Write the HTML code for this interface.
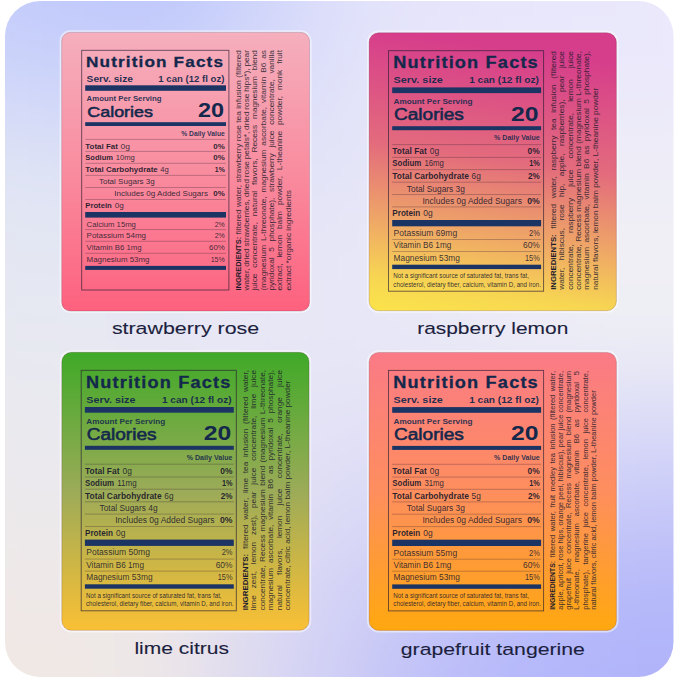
<!DOCTYPE html><html><head><meta charset="utf-8"><style>html,body{margin:0;padding:0;background:#fff;width:679px;height:679px;overflow:hidden}svg{display:block}</style></head><body>
<svg width="679" height="679" viewBox="0 0 679 679" font-family="'Liberation Sans', sans-serif">
<defs><clipPath id="bgc"><rect x="5" y="1" width="668.5" height="676" rx="35"/></clipPath><filter id="bl" x="-50%" y="-50%" width="200%" height="200%"><feGaussianBlur stdDeviation="40"/></filter></defs>
<g clip-path="url(#bgc)"><g filter="url(#bl)">
<rect x="-212.2" y="-212.2" width="85.9" height="85.9" fill="#c4ccfb"/>
<rect x="-127.3" y="-212.2" width="85.9" height="85.9" fill="#c4ccfb"/>
<rect x="-42.4" y="-212.2" width="85.9" height="85.9" fill="#c4ccfb"/>
<rect x="42.4" y="-212.2" width="85.9" height="85.9" fill="#c0c9fb"/>
<rect x="127.3" y="-212.2" width="85.9" height="85.9" fill="#bec8fb"/>
<rect x="212.2" y="-212.2" width="85.9" height="85.9" fill="#cdd3fa"/>
<rect x="297.1" y="-212.2" width="85.9" height="85.9" fill="#dfe0fa"/>
<rect x="381.9" y="-212.2" width="85.9" height="85.9" fill="#e5e4fb"/>
<rect x="466.8" y="-212.2" width="85.9" height="85.9" fill="#e8e6fb"/>
<rect x="551.7" y="-212.2" width="85.9" height="85.9" fill="#e9e7fb"/>
<rect x="636.6" y="-212.2" width="85.9" height="85.9" fill="#ebe8fc"/>
<rect x="721.4" y="-212.2" width="85.9" height="85.9" fill="#ebe8fc"/>
<rect x="806.3" y="-212.2" width="85.9" height="85.9" fill="#ebe8fc"/>
<rect x="-212.2" y="-127.3" width="85.9" height="85.9" fill="#c4ccfb"/>
<rect x="-127.3" y="-127.3" width="85.9" height="85.9" fill="#c4ccfb"/>
<rect x="-42.4" y="-127.3" width="85.9" height="85.9" fill="#c4ccfb"/>
<rect x="42.4" y="-127.3" width="85.9" height="85.9" fill="#c0c9fb"/>
<rect x="127.3" y="-127.3" width="85.9" height="85.9" fill="#bec8fb"/>
<rect x="212.2" y="-127.3" width="85.9" height="85.9" fill="#cdd3fa"/>
<rect x="297.1" y="-127.3" width="85.9" height="85.9" fill="#dfe0fa"/>
<rect x="381.9" y="-127.3" width="85.9" height="85.9" fill="#e5e4fb"/>
<rect x="466.8" y="-127.3" width="85.9" height="85.9" fill="#e8e6fb"/>
<rect x="551.7" y="-127.3" width="85.9" height="85.9" fill="#e9e7fb"/>
<rect x="636.6" y="-127.3" width="85.9" height="85.9" fill="#ebe8fc"/>
<rect x="721.4" y="-127.3" width="85.9" height="85.9" fill="#ebe8fc"/>
<rect x="806.3" y="-127.3" width="85.9" height="85.9" fill="#ebe8fc"/>
<rect x="-212.2" y="-42.4" width="85.9" height="85.9" fill="#c4ccfb"/>
<rect x="-127.3" y="-42.4" width="85.9" height="85.9" fill="#c4ccfb"/>
<rect x="-42.4" y="-42.4" width="85.9" height="85.9" fill="#c4ccfb"/>
<rect x="42.4" y="-42.4" width="85.9" height="85.9" fill="#c0c9fb"/>
<rect x="127.3" y="-42.4" width="85.9" height="85.9" fill="#bec8fb"/>
<rect x="212.2" y="-42.4" width="85.9" height="85.9" fill="#cdd3fa"/>
<rect x="297.1" y="-42.4" width="85.9" height="85.9" fill="#dfe0fa"/>
<rect x="381.9" y="-42.4" width="85.9" height="85.9" fill="#e5e4fb"/>
<rect x="466.8" y="-42.4" width="85.9" height="85.9" fill="#e8e6fb"/>
<rect x="551.7" y="-42.4" width="85.9" height="85.9" fill="#e9e7fb"/>
<rect x="636.6" y="-42.4" width="85.9" height="85.9" fill="#ebe8fc"/>
<rect x="721.4" y="-42.4" width="85.9" height="85.9" fill="#ebe8fc"/>
<rect x="806.3" y="-42.4" width="85.9" height="85.9" fill="#ebe8fc"/>
<rect x="-212.2" y="42.4" width="85.9" height="85.9" fill="#d0d7f9"/>
<rect x="-127.3" y="42.4" width="85.9" height="85.9" fill="#d0d7f9"/>
<rect x="-42.4" y="42.4" width="85.9" height="85.9" fill="#d0d7f9"/>
<rect x="42.4" y="42.4" width="85.9" height="85.9" fill="#ccd3fa"/>
<rect x="127.3" y="42.4" width="85.9" height="85.9" fill="#cdd3fa"/>
<rect x="212.2" y="42.4" width="85.9" height="85.9" fill="#d8dbf9"/>
<rect x="297.1" y="42.4" width="85.9" height="85.9" fill="#e1e2f9"/>
<rect x="381.9" y="42.4" width="85.9" height="85.9" fill="#e7e5fa"/>
<rect x="466.8" y="42.4" width="85.9" height="85.9" fill="#e9e7fa"/>
<rect x="551.7" y="42.4" width="85.9" height="85.9" fill="#eae8fa"/>
<rect x="636.6" y="42.4" width="85.9" height="85.9" fill="#ebe9fa"/>
<rect x="721.4" y="42.4" width="85.9" height="85.9" fill="#ebe9fa"/>
<rect x="806.3" y="42.4" width="85.9" height="85.9" fill="#ebe9fa"/>
<rect x="-212.2" y="127.3" width="85.9" height="85.9" fill="#e0e4f4"/>
<rect x="-127.3" y="127.3" width="85.9" height="85.9" fill="#e0e4f4"/>
<rect x="-42.4" y="127.3" width="85.9" height="85.9" fill="#e0e4f4"/>
<rect x="42.4" y="127.3" width="85.9" height="85.9" fill="#dee2f5"/>
<rect x="127.3" y="127.3" width="85.9" height="85.9" fill="#dde0f7"/>
<rect x="212.2" y="127.3" width="85.9" height="85.9" fill="#e0e2f8"/>
<rect x="297.1" y="127.3" width="85.9" height="85.9" fill="#e4e4f8"/>
<rect x="381.9" y="127.3" width="85.9" height="85.9" fill="#e9e7f9"/>
<rect x="466.8" y="127.3" width="85.9" height="85.9" fill="#ecebf8"/>
<rect x="551.7" y="127.3" width="85.9" height="85.9" fill="#eeedf7"/>
<rect x="636.6" y="127.3" width="85.9" height="85.9" fill="#eeedf7"/>
<rect x="721.4" y="127.3" width="85.9" height="85.9" fill="#eeedf7"/>
<rect x="806.3" y="127.3" width="85.9" height="85.9" fill="#eeedf7"/>
<rect x="-212.2" y="212.2" width="85.9" height="85.9" fill="#e4e7f2"/>
<rect x="-127.3" y="212.2" width="85.9" height="85.9" fill="#e4e7f2"/>
<rect x="-42.4" y="212.2" width="85.9" height="85.9" fill="#e4e7f2"/>
<rect x="42.4" y="212.2" width="85.9" height="85.9" fill="#e3e6f3"/>
<rect x="127.3" y="212.2" width="85.9" height="85.9" fill="#e3e5f5"/>
<rect x="212.2" y="212.2" width="85.9" height="85.9" fill="#e5e5f6"/>
<rect x="297.1" y="212.2" width="85.9" height="85.9" fill="#e7e6f7"/>
<rect x="381.9" y="212.2" width="85.9" height="85.9" fill="#eae9f7"/>
<rect x="466.8" y="212.2" width="85.9" height="85.9" fill="#eeedf6"/>
<rect x="551.7" y="212.2" width="85.9" height="85.9" fill="#f0f0f4"/>
<rect x="636.6" y="212.2" width="85.9" height="85.9" fill="#f0f0f4"/>
<rect x="721.4" y="212.2" width="85.9" height="85.9" fill="#f0f0f4"/>
<rect x="806.3" y="212.2" width="85.9" height="85.9" fill="#f0f0f4"/>
<rect x="-212.2" y="297.1" width="85.9" height="85.9" fill="#e7e9f1"/>
<rect x="-127.3" y="297.1" width="85.9" height="85.9" fill="#e7e9f1"/>
<rect x="-42.4" y="297.1" width="85.9" height="85.9" fill="#e7e9f1"/>
<rect x="42.4" y="297.1" width="85.9" height="85.9" fill="#e7e8f2"/>
<rect x="127.3" y="297.1" width="85.9" height="85.9" fill="#e7e7f4"/>
<rect x="212.2" y="297.1" width="85.9" height="85.9" fill="#e8e7f6"/>
<rect x="297.1" y="297.1" width="85.9" height="85.9" fill="#e8e7f7"/>
<rect x="381.9" y="297.1" width="85.9" height="85.9" fill="#e9e8f7"/>
<rect x="466.8" y="297.1" width="85.9" height="85.9" fill="#eceaf6"/>
<rect x="551.7" y="297.1" width="85.9" height="85.9" fill="#ededf5"/>
<rect x="636.6" y="297.1" width="85.9" height="85.9" fill="#ededf5"/>
<rect x="721.4" y="297.1" width="85.9" height="85.9" fill="#ededf5"/>
<rect x="806.3" y="297.1" width="85.9" height="85.9" fill="#ededf5"/>
<rect x="-212.2" y="381.9" width="85.9" height="85.9" fill="#eae9ee"/>
<rect x="-127.3" y="381.9" width="85.9" height="85.9" fill="#eae9ee"/>
<rect x="-42.4" y="381.9" width="85.9" height="85.9" fill="#eae9ee"/>
<rect x="42.4" y="381.9" width="85.9" height="85.9" fill="#e9e8f0"/>
<rect x="127.3" y="381.9" width="85.9" height="85.9" fill="#e8e6f2"/>
<rect x="212.2" y="381.9" width="85.9" height="85.9" fill="#e5e4f5"/>
<rect x="297.1" y="381.9" width="85.9" height="85.9" fill="#e3e2f6"/>
<rect x="381.9" y="381.9" width="85.9" height="85.9" fill="#e0e0f7"/>
<rect x="466.8" y="381.9" width="85.9" height="85.9" fill="#dfdff7"/>
<rect x="551.7" y="381.9" width="85.9" height="85.9" fill="#dcdcf8"/>
<rect x="636.6" y="381.9" width="85.9" height="85.9" fill="#dadaf8"/>
<rect x="721.4" y="381.9" width="85.9" height="85.9" fill="#dadaf8"/>
<rect x="806.3" y="381.9" width="85.9" height="85.9" fill="#dadaf8"/>
<rect x="-212.2" y="466.8" width="85.9" height="85.9" fill="#ece9eb"/>
<rect x="-127.3" y="466.8" width="85.9" height="85.9" fill="#ece9eb"/>
<rect x="-42.4" y="466.8" width="85.9" height="85.9" fill="#ece9eb"/>
<rect x="42.4" y="466.8" width="85.9" height="85.9" fill="#ebe8ec"/>
<rect x="127.3" y="466.8" width="85.9" height="85.9" fill="#e9e6ef"/>
<rect x="212.2" y="466.8" width="85.9" height="85.9" fill="#e2e0f3"/>
<rect x="297.1" y="466.8" width="85.9" height="85.9" fill="#dddcf5"/>
<rect x="381.9" y="466.8" width="85.9" height="85.9" fill="#d6d6f7"/>
<rect x="466.8" y="466.8" width="85.9" height="85.9" fill="#cfd0f8"/>
<rect x="551.7" y="466.8" width="85.9" height="85.9" fill="#c9caf8"/>
<rect x="636.6" y="466.8" width="85.9" height="85.9" fill="#c6c7f8"/>
<rect x="721.4" y="466.8" width="85.9" height="85.9" fill="#c6c7f8"/>
<rect x="806.3" y="466.8" width="85.9" height="85.9" fill="#c6c7f8"/>
<rect x="-212.2" y="551.7" width="85.9" height="85.9" fill="#efe8e7"/>
<rect x="-127.3" y="551.7" width="85.9" height="85.9" fill="#efe8e7"/>
<rect x="-42.4" y="551.7" width="85.9" height="85.9" fill="#efe8e7"/>
<rect x="42.4" y="551.7" width="85.9" height="85.9" fill="#eee8e8"/>
<rect x="127.3" y="551.7" width="85.9" height="85.9" fill="#ebe6eb"/>
<rect x="212.2" y="551.7" width="85.9" height="85.9" fill="#dedbf2"/>
<rect x="297.1" y="551.7" width="85.9" height="85.9" fill="#d3d2f6"/>
<rect x="381.9" y="551.7" width="85.9" height="85.9" fill="#c6c7f8"/>
<rect x="466.8" y="551.7" width="85.9" height="85.9" fill="#bcbff9"/>
<rect x="551.7" y="551.7" width="85.9" height="85.9" fill="#b6b9f9"/>
<rect x="636.6" y="551.7" width="85.9" height="85.9" fill="#b4b7f9"/>
<rect x="721.4" y="551.7" width="85.9" height="85.9" fill="#b4b7f9"/>
<rect x="806.3" y="551.7" width="85.9" height="85.9" fill="#b4b7f9"/>
<rect x="-212.2" y="636.6" width="85.9" height="85.9" fill="#f0e8e3"/>
<rect x="-127.3" y="636.6" width="85.9" height="85.9" fill="#f0e8e3"/>
<rect x="-42.4" y="636.6" width="85.9" height="85.9" fill="#f0e8e3"/>
<rect x="42.4" y="636.6" width="85.9" height="85.9" fill="#f0e8e4"/>
<rect x="127.3" y="636.6" width="85.9" height="85.9" fill="#ece6e8"/>
<rect x="212.2" y="636.6" width="85.9" height="85.9" fill="#dcd9f1"/>
<rect x="297.1" y="636.6" width="85.9" height="85.9" fill="#cecdf6"/>
<rect x="381.9" y="636.6" width="85.9" height="85.9" fill="#bfc0f8"/>
<rect x="466.8" y="636.6" width="85.9" height="85.9" fill="#b5b8fa"/>
<rect x="551.7" y="636.6" width="85.9" height="85.9" fill="#b2b5fa"/>
<rect x="636.6" y="636.6" width="85.9" height="85.9" fill="#b0b3fa"/>
<rect x="721.4" y="636.6" width="85.9" height="85.9" fill="#b0b3fa"/>
<rect x="806.3" y="636.6" width="85.9" height="85.9" fill="#b0b3fa"/>
<rect x="-212.2" y="721.4" width="85.9" height="85.9" fill="#f0e8e3"/>
<rect x="-127.3" y="721.4" width="85.9" height="85.9" fill="#f0e8e3"/>
<rect x="-42.4" y="721.4" width="85.9" height="85.9" fill="#f0e8e3"/>
<rect x="42.4" y="721.4" width="85.9" height="85.9" fill="#f0e8e4"/>
<rect x="127.3" y="721.4" width="85.9" height="85.9" fill="#ece6e8"/>
<rect x="212.2" y="721.4" width="85.9" height="85.9" fill="#dcd9f1"/>
<rect x="297.1" y="721.4" width="85.9" height="85.9" fill="#cecdf6"/>
<rect x="381.9" y="721.4" width="85.9" height="85.9" fill="#bfc0f8"/>
<rect x="466.8" y="721.4" width="85.9" height="85.9" fill="#b5b8fa"/>
<rect x="551.7" y="721.4" width="85.9" height="85.9" fill="#b2b5fa"/>
<rect x="636.6" y="721.4" width="85.9" height="85.9" fill="#b0b3fa"/>
<rect x="721.4" y="721.4" width="85.9" height="85.9" fill="#b0b3fa"/>
<rect x="806.3" y="721.4" width="85.9" height="85.9" fill="#b0b3fa"/>
<rect x="-212.2" y="806.3" width="85.9" height="85.9" fill="#f0e8e3"/>
<rect x="-127.3" y="806.3" width="85.9" height="85.9" fill="#f0e8e3"/>
<rect x="-42.4" y="806.3" width="85.9" height="85.9" fill="#f0e8e3"/>
<rect x="42.4" y="806.3" width="85.9" height="85.9" fill="#f0e8e4"/>
<rect x="127.3" y="806.3" width="85.9" height="85.9" fill="#ece6e8"/>
<rect x="212.2" y="806.3" width="85.9" height="85.9" fill="#dcd9f1"/>
<rect x="297.1" y="806.3" width="85.9" height="85.9" fill="#cecdf6"/>
<rect x="381.9" y="806.3" width="85.9" height="85.9" fill="#bfc0f8"/>
<rect x="466.8" y="806.3" width="85.9" height="85.9" fill="#b5b8fa"/>
<rect x="551.7" y="806.3" width="85.9" height="85.9" fill="#b2b5fa"/>
<rect x="636.6" y="806.3" width="85.9" height="85.9" fill="#b0b3fa"/>
<rect x="721.4" y="806.3" width="85.9" height="85.9" fill="#b0b3fa"/>
<rect x="806.3" y="806.3" width="85.9" height="85.9" fill="#b0b3fa"/>
</g></g>
<defs><linearGradient id="g1" x1="0.000" y1="0.000" x2="0.000" y2="1.000"><stop offset="0.000" stop-color="#f5afbd"/><stop offset="0.500" stop-color="#f98c9f"/><stop offset="1.000" stop-color="#fd617e"/></linearGradient></defs>
<rect x="59.60" y="30.30" width="252.00" height="282.80" rx="10.60" fill="#ffffff" fill-opacity="0.5"/>
<rect x="61.70" y="32.40" width="247.80" height="278.60" rx="8.50" fill="url(#g1)" stroke="#400020" stroke-opacity="0.18" stroke-width="1"/>
<rect x="81.70" y="50.30" width="147.20" height="239.70" fill="none" stroke="#251a30" stroke-opacity="0.7" stroke-width="0.9"/>
<text x="86.00" y="66.60" font-size="15.30" font-weight="bold" fill="#14284c" stroke="#14284c" stroke-width="0.30" textLength="138.10" lengthAdjust="spacingAndGlyphs" letter-spacing="1.00">Nutrition Facts</text>
<text x="86.60" y="81.50" font-size="9.40" font-weight="bold" fill="#14284c" fill-opacity="0.95" textLength="46.40" lengthAdjust="spacingAndGlyphs">Serv. size</text>
<text x="158.30" y="81.50" font-size="9.40" font-weight="bold" fill="#14284c" fill-opacity="0.95" textLength="66.20" lengthAdjust="spacingAndGlyphs">1 can (12 fl oz)</text>
<rect x="85.20" y="85.30" width="140.80" height="5.50" fill="#1b3464"/>
<text x="86.60" y="101.30" font-size="7.00" font-weight="bold" fill="#14284c" fill-opacity="0.90" textLength="74.90" lengthAdjust="spacingAndGlyphs">Amount Per Serving</text>
<text x="87.30" y="117.00" font-size="15.00" fill="#14284c" stroke="#14284c" stroke-width="0.55" textLength="65.60" lengthAdjust="spacingAndGlyphs">Calories</text>
<text x="198.00" y="117.00" font-size="19.50" font-weight="bold" fill="#14284c" textLength="26.10" lengthAdjust="spacingAndGlyphs">20</text>
<rect x="85.20" y="122.20" width="140.80" height="3.80" fill="#1b3464"/>
<text x="181.20" y="135.70" font-size="7.00" font-weight="bold" fill="#14284c" fill-opacity="0.90" textLength="43.60" lengthAdjust="spacingAndGlyphs">% Daily Value</text>
<rect x="85.20" y="138.90" width="140.80" height="1.00" fill="#2a1a30" fill-opacity="0.28"/>
<text x="85.30" y="148.50" font-size="8.00" font-weight="bold" fill="#1c1a2c" fill-opacity="0.95" textLength="32.60" lengthAdjust="spacingAndGlyphs">Total Fat</text>
<text x="120.60" y="148.50" font-size="8.00" fill="#1c1a2c" fill-opacity="0.90" textLength="9.50" lengthAdjust="spacingAndGlyphs">0g</text>
<text x="213.30" y="148.50" font-size="8.00" font-weight="bold" fill="#1c1a2c" fill-opacity="0.95" textLength="11.50" lengthAdjust="spacingAndGlyphs">0%</text>
<text x="85.30" y="160.40" font-size="8.00" font-weight="bold" fill="#1c1a2c" fill-opacity="0.95" textLength="27.70" lengthAdjust="spacingAndGlyphs">Sodium</text>
<text x="115.70" y="160.40" font-size="8.00" fill="#1c1a2c" fill-opacity="0.90" textLength="19.10" lengthAdjust="spacingAndGlyphs">10mg</text>
<text x="213.30" y="160.40" font-size="8.00" font-weight="bold" fill="#1c1a2c" fill-opacity="0.95" textLength="11.50" lengthAdjust="spacingAndGlyphs">0%</text>
<text x="85.30" y="172.40" font-size="8.00" font-weight="bold" fill="#1c1a2c" fill-opacity="0.95" textLength="72.50" lengthAdjust="spacingAndGlyphs">Total Carbohydrate</text>
<text x="160.30" y="172.40" font-size="8.00" fill="#1c1a2c" fill-opacity="0.90" textLength="8.50" lengthAdjust="spacingAndGlyphs">4g</text>
<text x="214.80" y="172.40" font-size="8.00" font-weight="bold" fill="#1c1a2c" fill-opacity="0.95" textLength="10.00" lengthAdjust="spacingAndGlyphs">1%</text>
<text x="98.90" y="184.40" font-size="8.00" fill="#1c1a2c" fill-opacity="0.90" textLength="55.90" lengthAdjust="spacingAndGlyphs">Total Sugars 3g</text>
<text x="114.20" y="196.20" font-size="8.00" fill="#1c1a2c" fill-opacity="0.90" textLength="93.80" lengthAdjust="spacingAndGlyphs">Includes 0g Added Sugars</text>
<text x="213.30" y="196.20" font-size="8.00" font-weight="bold" fill="#1c1a2c" fill-opacity="0.95" textLength="11.50" lengthAdjust="spacingAndGlyphs">0%</text>
<text x="85.30" y="207.80" font-size="8.00" font-weight="bold" fill="#1c1a2c" fill-opacity="0.95" textLength="26.50" lengthAdjust="spacingAndGlyphs">Protein</text>
<text x="114.80" y="207.80" font-size="8.00" fill="#1c1a2c" fill-opacity="0.90" textLength="9.00" lengthAdjust="spacingAndGlyphs">0g</text>
<rect x="85.20" y="150.90" width="140.80" height="1.00" fill="#2a1a30" fill-opacity="0.28"/>
<rect x="85.20" y="162.80" width="140.80" height="1.00" fill="#2a1a30" fill-opacity="0.28"/>
<rect x="85.20" y="174.90" width="140.80" height="1.00" fill="#2a1a30" fill-opacity="0.28"/>
<rect x="85.20" y="187.00" width="140.80" height="1.00" fill="#2a1a30" fill-opacity="0.28"/>
<rect x="85.20" y="199.00" width="140.80" height="1.00" fill="#2a1a30" fill-opacity="0.28"/>
<rect x="85.20" y="212.00" width="140.80" height="5.60" fill="#1b3464"/>
<text x="86.60" y="226.90" font-size="8.00" fill="#1c1a2c" fill-opacity="0.88" textLength="49.30" lengthAdjust="spacingAndGlyphs">Calcium 15mg</text>
<text x="214.70" y="226.90" font-size="8.00" fill="#1c1a2c" fill-opacity="0.88" textLength="10.10" lengthAdjust="spacingAndGlyphs">2%</text>
<text x="86.60" y="238.30" font-size="8.00" fill="#1c1a2c" fill-opacity="0.88" textLength="59.40" lengthAdjust="spacingAndGlyphs">Potassium 54mg</text>
<text x="214.70" y="238.30" font-size="8.00" fill="#1c1a2c" fill-opacity="0.88" textLength="10.10" lengthAdjust="spacingAndGlyphs">2%</text>
<text x="86.60" y="250.10" font-size="8.00" fill="#1c1a2c" fill-opacity="0.88" textLength="55.00" lengthAdjust="spacingAndGlyphs">Vitamin B6 1mg</text>
<text x="209.00" y="250.10" font-size="8.00" fill="#1c1a2c" fill-opacity="0.88" textLength="15.80" lengthAdjust="spacingAndGlyphs">60%</text>
<text x="86.60" y="262.00" font-size="8.00" fill="#1c1a2c" fill-opacity="0.88" textLength="62.90" lengthAdjust="spacingAndGlyphs">Magnesium 53mg</text>
<text x="210.70" y="262.00" font-size="8.00" fill="#1c1a2c" fill-opacity="0.88" textLength="14.10" lengthAdjust="spacingAndGlyphs">15%</text>
<rect x="85.20" y="229.10" width="140.80" height="1.00" fill="#2a1a30" fill-opacity="0.28"/>
<rect x="85.20" y="240.80" width="140.80" height="1.00" fill="#2a1a30" fill-opacity="0.28"/>
<rect x="85.20" y="252.80" width="140.80" height="1.00" fill="#2a1a30" fill-opacity="0.28"/>
<rect x="85.20" y="265.90" width="140.80" height="4.00" fill="#1b3464"/>
<g transform="translate(240.80,290.60) rotate(-90)">
<text x="0.00" y="0" font-size="7.50" font-weight="bold" fill="#1c1a2c" fill-opacity="1.00" textLength="53.80" lengthAdjust="spacingAndGlyphs">INGREDIENTS:</text>
<text x="56.23" y="0" font-size="7.50" fill="#1c1a2c" fill-opacity="0.82" textLength="24.91" lengthAdjust="spacingAndGlyphs" stroke="#1c1a2c" stroke-opacity="0.35" stroke-width="0.15">filtered</text>
<text x="83.58" y="0" font-size="7.50" fill="#1c1a2c" fill-opacity="0.82" textLength="22.14" lengthAdjust="spacingAndGlyphs" stroke="#1c1a2c" stroke-opacity="0.35" stroke-width="0.15">water,</text>
<text x="108.16" y="0" font-size="7.50" fill="#1c1a2c" fill-opacity="0.82" textLength="38.74" lengthAdjust="spacingAndGlyphs" stroke="#1c1a2c" stroke-opacity="0.35" stroke-width="0.15">strawberry</text>
<text x="149.33" y="0" font-size="7.50" fill="#1c1a2c" fill-opacity="0.82" textLength="16.15" lengthAdjust="spacingAndGlyphs" stroke="#1c1a2c" stroke-opacity="0.35" stroke-width="0.15">rose</text>
<text x="167.91" y="0" font-size="7.50" fill="#1c1a2c" fill-opacity="0.82" textLength="11.54" lengthAdjust="spacingAndGlyphs" stroke="#1c1a2c" stroke-opacity="0.35" stroke-width="0.15">tea</text>
<text x="181.88" y="0" font-size="7.50" fill="#1c1a2c" fill-opacity="0.82" textLength="28.61" lengthAdjust="spacingAndGlyphs" stroke="#1c1a2c" stroke-opacity="0.35" stroke-width="0.15">infusion</text>
<text x="212.92" y="0" font-size="7.50" fill="#1c1a2c" fill-opacity="0.82" textLength="27.68" lengthAdjust="spacingAndGlyphs" stroke="#1c1a2c" stroke-opacity="0.35" stroke-width="0.15">(filtered</text>
</g>
<g transform="translate(249.10,290.60) rotate(-90)">
<text x="0.00" y="0" font-size="7.50" fill="#1c1a2c" fill-opacity="0.82" textLength="22.14" lengthAdjust="spacingAndGlyphs" stroke="#1c1a2c" stroke-opacity="0.35" stroke-width="0.15">water,</text>
<text x="23.86" y="0" font-size="7.50" fill="#1c1a2c" fill-opacity="0.82" textLength="18.46" lengthAdjust="spacingAndGlyphs" stroke="#1c1a2c" stroke-opacity="0.35" stroke-width="0.15">dried</text>
<text x="44.04" y="0" font-size="7.50" fill="#1c1a2c" fill-opacity="0.82" textLength="47.51" lengthAdjust="spacingAndGlyphs" stroke="#1c1a2c" stroke-opacity="0.35" stroke-width="0.15">strawberries,</text>
<text x="93.26" y="0" font-size="7.50" fill="#1c1a2c" fill-opacity="0.82" textLength="18.46" lengthAdjust="spacingAndGlyphs" stroke="#1c1a2c" stroke-opacity="0.35" stroke-width="0.15">dried</text>
<text x="113.44" y="0" font-size="7.50" fill="#1c1a2c" fill-opacity="0.82" textLength="16.15" lengthAdjust="spacingAndGlyphs" stroke="#1c1a2c" stroke-opacity="0.35" stroke-width="0.15">rose</text>
<text x="131.30" y="0" font-size="7.50" fill="#1c1a2c" fill-opacity="0.82" textLength="27.68" lengthAdjust="spacingAndGlyphs" stroke="#1c1a2c" stroke-opacity="0.35" stroke-width="0.15">petals*,</text>
<text x="160.70" y="0" font-size="7.50" fill="#1c1a2c" fill-opacity="0.82" textLength="18.46" lengthAdjust="spacingAndGlyphs" stroke="#1c1a2c" stroke-opacity="0.35" stroke-width="0.15">dried</text>
<text x="180.88" y="0" font-size="7.50" fill="#1c1a2c" fill-opacity="0.82" textLength="16.15" lengthAdjust="spacingAndGlyphs" stroke="#1c1a2c" stroke-opacity="0.35" stroke-width="0.15">rose</text>
<text x="198.74" y="0" font-size="7.50" fill="#1c1a2c" fill-opacity="0.82" textLength="23.53" lengthAdjust="spacingAndGlyphs" stroke="#1c1a2c" stroke-opacity="0.35" stroke-width="0.15">hips*),</text>
<text x="223.99" y="0" font-size="7.50" fill="#1c1a2c" fill-opacity="0.82" textLength="16.61" lengthAdjust="spacingAndGlyphs" stroke="#1c1a2c" stroke-opacity="0.35" stroke-width="0.15">pear</text>
</g>
<g transform="translate(257.40,290.60) rotate(-90)">
<text x="0.00" y="0" font-size="7.50" fill="#1c1a2c" fill-opacity="0.82" textLength="17.07" lengthAdjust="spacingAndGlyphs" stroke="#1c1a2c" stroke-opacity="0.35" stroke-width="0.15">juice</text>
<text x="22.88" y="0" font-size="7.50" fill="#1c1a2c" fill-opacity="0.82" textLength="45.68" lengthAdjust="spacingAndGlyphs" stroke="#1c1a2c" stroke-opacity="0.35" stroke-width="0.15">concentrate,</text>
<text x="74.36" y="0" font-size="7.50" fill="#1c1a2c" fill-opacity="0.82" textLength="25.38" lengthAdjust="spacingAndGlyphs" stroke="#1c1a2c" stroke-opacity="0.35" stroke-width="0.15">natural</text>
<text x="105.54" y="0" font-size="7.50" fill="#1c1a2c" fill-opacity="0.82" textLength="26.75" lengthAdjust="spacingAndGlyphs" stroke="#1c1a2c" stroke-opacity="0.35" stroke-width="0.15">flavors,</text>
<text x="138.10" y="0" font-size="7.50" fill="#1c1a2c" fill-opacity="0.82" textLength="27.68" lengthAdjust="spacingAndGlyphs" stroke="#1c1a2c" stroke-opacity="0.35" stroke-width="0.15">Recess</text>
<text x="171.58" y="0" font-size="7.50" fill="#1c1a2c" fill-opacity="0.82" textLength="42.90" lengthAdjust="spacingAndGlyphs" stroke="#1c1a2c" stroke-opacity="0.35" stroke-width="0.15">magnesium</text>
<text x="220.29" y="0" font-size="7.50" fill="#1c1a2c" fill-opacity="0.82" textLength="20.31" lengthAdjust="spacingAndGlyphs" stroke="#1c1a2c" stroke-opacity="0.35" stroke-width="0.15">blend</text>
</g>
<g transform="translate(265.70,290.60) rotate(-90)">
<text x="0.00" y="0" font-size="7.50" fill="#1c1a2c" fill-opacity="0.82" textLength="45.67" lengthAdjust="spacingAndGlyphs" stroke="#1c1a2c" stroke-opacity="0.35" stroke-width="0.15">(magnesium</text>
<text x="49.55" y="0" font-size="7.50" fill="#1c1a2c" fill-opacity="0.82" textLength="44.76" lengthAdjust="spacingAndGlyphs" stroke="#1c1a2c" stroke-opacity="0.35" stroke-width="0.15">L-threonate,</text>
<text x="98.20" y="0" font-size="7.50" fill="#1c1a2c" fill-opacity="0.82" textLength="42.90" lengthAdjust="spacingAndGlyphs" stroke="#1c1a2c" stroke-opacity="0.35" stroke-width="0.15">magnesium</text>
<text x="144.98" y="0" font-size="7.50" fill="#1c1a2c" fill-opacity="0.82" textLength="38.76" lengthAdjust="spacingAndGlyphs" stroke="#1c1a2c" stroke-opacity="0.35" stroke-width="0.15">ascorbate,</text>
<text x="187.62" y="0" font-size="7.50" fill="#1c1a2c" fill-opacity="0.82" textLength="26.29" lengthAdjust="spacingAndGlyphs" stroke="#1c1a2c" stroke-opacity="0.35" stroke-width="0.15">vitamin</text>
<text x="217.80" y="0" font-size="7.50" fill="#1c1a2c" fill-opacity="0.82" textLength="10.15" lengthAdjust="spacingAndGlyphs" stroke="#1c1a2c" stroke-opacity="0.35" stroke-width="0.15">B6</text>
<text x="231.83" y="0" font-size="7.50" fill="#1c1a2c" fill-opacity="0.82" textLength="8.77" lengthAdjust="spacingAndGlyphs" stroke="#1c1a2c" stroke-opacity="0.35" stroke-width="0.15">as</text>
</g>
<g transform="translate(274.00,290.60) rotate(-90)">
<text x="0.00" y="0" font-size="7.50" fill="#1c1a2c" fill-opacity="0.82" textLength="33.22" lengthAdjust="spacingAndGlyphs" stroke="#1c1a2c" stroke-opacity="0.35" stroke-width="0.15">pyridoxal</text>
<text x="38.87" y="0" font-size="7.50" fill="#1c1a2c" fill-opacity="0.82" textLength="4.62" lengthAdjust="spacingAndGlyphs" stroke="#1c1a2c" stroke-opacity="0.35" stroke-width="0.15">5</text>
<text x="49.14" y="0" font-size="7.50" fill="#1c1a2c" fill-opacity="0.82" textLength="43.84" lengthAdjust="spacingAndGlyphs" stroke="#1c1a2c" stroke-opacity="0.35" stroke-width="0.15">phosphate),</text>
<text x="98.63" y="0" font-size="7.50" fill="#1c1a2c" fill-opacity="0.82" textLength="38.74" lengthAdjust="spacingAndGlyphs" stroke="#1c1a2c" stroke-opacity="0.35" stroke-width="0.15">strawberry</text>
<text x="143.02" y="0" font-size="7.50" fill="#1c1a2c" fill-opacity="0.82" textLength="17.07" lengthAdjust="spacingAndGlyphs" stroke="#1c1a2c" stroke-opacity="0.35" stroke-width="0.15">juice</text>
<text x="165.74" y="0" font-size="7.50" fill="#1c1a2c" fill-opacity="0.82" textLength="45.68" lengthAdjust="spacingAndGlyphs" stroke="#1c1a2c" stroke-opacity="0.35" stroke-width="0.15">concentrate,</text>
<text x="217.07" y="0" font-size="7.50" fill="#1c1a2c" fill-opacity="0.82" textLength="23.53" lengthAdjust="spacingAndGlyphs" stroke="#1c1a2c" stroke-opacity="0.35" stroke-width="0.15">vanilla</text>
</g>
<g transform="translate(282.30,290.60) rotate(-90)">
<text x="0.00" y="0" font-size="7.50" fill="#1c1a2c" fill-opacity="0.82" textLength="27.21" lengthAdjust="spacingAndGlyphs" stroke="#1c1a2c" stroke-opacity="0.35" stroke-width="0.15">extract,</text>
<text x="33.11" y="0" font-size="7.50" fill="#1c1a2c" fill-opacity="0.82" textLength="22.61" lengthAdjust="spacingAndGlyphs" stroke="#1c1a2c" stroke-opacity="0.35" stroke-width="0.15">lemon</text>
<text x="61.62" y="0" font-size="7.50" fill="#1c1a2c" fill-opacity="0.82" textLength="17.99" lengthAdjust="spacingAndGlyphs" stroke="#1c1a2c" stroke-opacity="0.35" stroke-width="0.15">balm</text>
<text x="85.51" y="0" font-size="7.50" fill="#1c1a2c" fill-opacity="0.82" textLength="29.07" lengthAdjust="spacingAndGlyphs" stroke="#1c1a2c" stroke-opacity="0.35" stroke-width="0.15">powder,</text>
<text x="120.47" y="0" font-size="7.50" fill="#1c1a2c" fill-opacity="0.82" textLength="39.23" lengthAdjust="spacingAndGlyphs" stroke="#1c1a2c" stroke-opacity="0.35" stroke-width="0.15">L-theanine</text>
<text x="165.60" y="0" font-size="7.50" fill="#1c1a2c" fill-opacity="0.82" textLength="29.07" lengthAdjust="spacingAndGlyphs" stroke="#1c1a2c" stroke-opacity="0.35" stroke-width="0.15">powder,</text>
<text x="200.57" y="0" font-size="7.50" fill="#1c1a2c" fill-opacity="0.82" textLength="20.30" lengthAdjust="spacingAndGlyphs" stroke="#1c1a2c" stroke-opacity="0.35" stroke-width="0.15">monk</text>
<text x="226.76" y="0" font-size="7.50" fill="#1c1a2c" fill-opacity="0.82" textLength="13.84" lengthAdjust="spacingAndGlyphs" stroke="#1c1a2c" stroke-opacity="0.35" stroke-width="0.15">fruit</text>
</g>
<g transform="translate(290.60,290.60) rotate(-90)">
<text x="0.00" y="0" font-size="7.50" fill="#1c1a2c" fill-opacity="0.82" textLength="24.91" lengthAdjust="spacingAndGlyphs" stroke="#1c1a2c" stroke-opacity="0.35" stroke-width="0.15">extract</text>
<text x="27.21" y="0" font-size="7.50" fill="#1c1a2c" fill-opacity="0.82" textLength="30.45" lengthAdjust="spacingAndGlyphs" stroke="#1c1a2c" stroke-opacity="0.35" stroke-width="0.15">*organic</text>
<text x="59.97" y="0" font-size="7.50" fill="#1c1a2c" fill-opacity="0.82" textLength="40.61" lengthAdjust="spacingAndGlyphs" stroke="#1c1a2c" stroke-opacity="0.35" stroke-width="0.15">ingredients</text>
</g>
<defs><linearGradient id="g2" x1="0.120" y1="0.000" x2="0.000" y2="1.000"><stop offset="0.000" stop-color="#d63d8b"/><stop offset="0.400" stop-color="#e36b7d"/><stop offset="0.680" stop-color="#efa866"/><stop offset="0.880" stop-color="#f7d652"/><stop offset="1.000" stop-color="#fbe44a"/></linearGradient></defs>
<rect x="367.00" y="30.60" width="251.50" height="282.20" rx="11.60" fill="#ffffff" fill-opacity="0.5"/>
<rect x="369.10" y="32.70" width="247.30" height="278.00" rx="9.50" fill="url(#g2)" stroke="#400020" stroke-opacity="0.18" stroke-width="1"/>
<rect x="388.50" y="50.70" width="155.10" height="240.50" fill="none" stroke="#251a30" stroke-opacity="0.7" stroke-width="0.9"/>
<text x="393.20" y="67.90" font-size="16.00" font-weight="bold" fill="#14284c" stroke="#14284c" stroke-width="0.30" textLength="145.70" lengthAdjust="spacingAndGlyphs" letter-spacing="1.05">Nutrition Facts</text>
<text x="393.60" y="82.90" font-size="9.80" font-weight="bold" fill="#14284c" fill-opacity="0.95" textLength="49.30" lengthAdjust="spacingAndGlyphs">Serv. size</text>
<text x="469.20" y="82.90" font-size="9.80" font-weight="bold" fill="#14284c" fill-opacity="0.95" textLength="69.70" lengthAdjust="spacingAndGlyphs">1 can (12 fl oz)</text>
<rect x="392.20" y="87.40" width="148.90" height="5.70" fill="#1b3464"/>
<text x="393.60" y="103.90" font-size="7.30" font-weight="bold" fill="#14284c" fill-opacity="0.90" textLength="78.90" lengthAdjust="spacingAndGlyphs">Amount Per Serving</text>
<text x="394.00" y="120.40" font-size="15.60" fill="#14284c" stroke="#14284c" stroke-width="0.55" textLength="69.90" lengthAdjust="spacingAndGlyphs">Calories</text>
<text x="511.00" y="120.50" font-size="20.20" font-weight="bold" fill="#14284c" textLength="27.50" lengthAdjust="spacingAndGlyphs">20</text>
<rect x="392.20" y="126.20" width="148.90" height="4.00" fill="#1b3464"/>
<text x="494.00" y="140.30" font-size="7.30" font-weight="bold" fill="#14284c" fill-opacity="0.90" textLength="45.80" lengthAdjust="spacingAndGlyphs">% Daily Value</text>
<rect x="392.20" y="144.10" width="148.90" height="1.00" fill="#2a1a30" fill-opacity="0.28"/>
<text x="392.30" y="153.90" font-size="8.30" font-weight="bold" fill="#1c1a2c" fill-opacity="0.95" textLength="34.50" lengthAdjust="spacingAndGlyphs">Total Fat</text>
<text x="429.80" y="153.90" font-size="8.30" fill="#1c1a2c" fill-opacity="0.90" textLength="9.40" lengthAdjust="spacingAndGlyphs">0g</text>
<text x="527.60" y="153.90" font-size="8.30" font-weight="bold" fill="#1c1a2c" fill-opacity="0.95" textLength="12.20" lengthAdjust="spacingAndGlyphs">0%</text>
<text x="392.30" y="166.40" font-size="8.30" font-weight="bold" fill="#1c1a2c" fill-opacity="0.95" textLength="29.00" lengthAdjust="spacingAndGlyphs">Sodium</text>
<text x="424.50" y="166.40" font-size="8.30" fill="#1c1a2c" fill-opacity="0.90" textLength="19.40" lengthAdjust="spacingAndGlyphs">16mg</text>
<text x="529.20" y="166.40" font-size="8.30" font-weight="bold" fill="#1c1a2c" fill-opacity="0.95" textLength="10.60" lengthAdjust="spacingAndGlyphs">1%</text>
<text x="392.30" y="178.90" font-size="8.30" font-weight="bold" fill="#1c1a2c" fill-opacity="0.95" textLength="76.60" lengthAdjust="spacingAndGlyphs">Total Carbohydrate</text>
<text x="471.60" y="178.90" font-size="8.30" fill="#1c1a2c" fill-opacity="0.90" textLength="9.20" lengthAdjust="spacingAndGlyphs">6g</text>
<text x="528.00" y="178.90" font-size="8.30" font-weight="bold" fill="#1c1a2c" fill-opacity="0.95" textLength="11.80" lengthAdjust="spacingAndGlyphs">2%</text>
<text x="406.80" y="191.50" font-size="8.30" fill="#1c1a2c" fill-opacity="0.90" textLength="58.10" lengthAdjust="spacingAndGlyphs">Total Sugars 3g</text>
<text x="422.50" y="203.60" font-size="8.30" fill="#1c1a2c" fill-opacity="0.90" textLength="99.40" lengthAdjust="spacingAndGlyphs">Includes 0g Added Sugars</text>
<text x="527.20" y="203.60" font-size="8.30" font-weight="bold" fill="#1c1a2c" fill-opacity="0.95" textLength="12.60" lengthAdjust="spacingAndGlyphs">0%</text>
<text x="392.30" y="216.20" font-size="8.30" font-weight="bold" fill="#1c1a2c" fill-opacity="0.95" textLength="28.00" lengthAdjust="spacingAndGlyphs">Protein</text>
<text x="423.30" y="216.20" font-size="8.30" fill="#1c1a2c" fill-opacity="0.90" textLength="9.40" lengthAdjust="spacingAndGlyphs">0g</text>
<rect x="392.20" y="156.90" width="148.90" height="1.00" fill="#2a1a30" fill-opacity="0.28"/>
<rect x="392.20" y="169.10" width="148.90" height="1.00" fill="#2a1a30" fill-opacity="0.28"/>
<rect x="392.20" y="181.70" width="148.90" height="1.00" fill="#2a1a30" fill-opacity="0.28"/>
<rect x="392.20" y="194.00" width="148.90" height="1.00" fill="#2a1a30" fill-opacity="0.28"/>
<rect x="392.20" y="206.40" width="148.90" height="1.00" fill="#2a1a30" fill-opacity="0.28"/>
<rect x="392.20" y="220.00" width="148.90" height="6.30" fill="#1b3464"/>
<text x="393.60" y="235.80" font-size="8.30" fill="#1c1a2c" fill-opacity="0.88" textLength="63.60" lengthAdjust="spacingAndGlyphs">Potassium 69mg</text>
<text x="529.00" y="235.80" font-size="8.30" fill="#1c1a2c" fill-opacity="0.88" textLength="10.80" lengthAdjust="spacingAndGlyphs">2%</text>
<text x="393.60" y="248.10" font-size="8.30" fill="#1c1a2c" fill-opacity="0.88" textLength="57.70" lengthAdjust="spacingAndGlyphs">Vitamin B6 1mg</text>
<text x="523.00" y="248.10" font-size="8.30" fill="#1c1a2c" fill-opacity="0.88" textLength="16.80" lengthAdjust="spacingAndGlyphs">60%</text>
<text x="393.60" y="260.70" font-size="8.30" fill="#1c1a2c" fill-opacity="0.88" textLength="66.30" lengthAdjust="spacingAndGlyphs">Magnesium 53mg</text>
<text x="525.00" y="260.70" font-size="8.30" fill="#1c1a2c" fill-opacity="0.88" textLength="14.80" lengthAdjust="spacingAndGlyphs">15%</text>
<rect x="392.20" y="239.00" width="148.90" height="1.00" fill="#2a1a30" fill-opacity="0.28"/>
<rect x="392.20" y="251.00" width="148.90" height="1.00" fill="#2a1a30" fill-opacity="0.28"/>
<rect x="392.20" y="264.70" width="148.90" height="4.40" fill="#1b3464"/>
<text x="393.30" y="278.40" font-size="6.70" fill="#1c1a2c" fill-opacity="0.90" textLength="135.60" lengthAdjust="spacingAndGlyphs">Not a significant source of saturated fat, trans fat,</text>
<text x="393.30" y="286.60" font-size="6.70" fill="#1c1a2c" fill-opacity="0.90" textLength="147.60" lengthAdjust="spacingAndGlyphs">cholesterol, dietary fiber, calcium, vitamin D, and iron.</text>
<g transform="translate(556.00,289.80) rotate(-90)">
<text x="0.00" y="0" font-size="7.50" font-weight="bold" fill="#1c1a2c" fill-opacity="1.00" textLength="55.50" lengthAdjust="spacingAndGlyphs">INGREDIENTS:</text>
<text x="61.06" y="0" font-size="7.50" fill="#1c1a2c" fill-opacity="0.82" textLength="24.91" lengthAdjust="spacingAndGlyphs" stroke="#1c1a2c" stroke-opacity="0.35" stroke-width="0.15">filtered</text>
<text x="91.53" y="0" font-size="7.50" fill="#1c1a2c" fill-opacity="0.82" textLength="22.14" lengthAdjust="spacingAndGlyphs" stroke="#1c1a2c" stroke-opacity="0.35" stroke-width="0.15">water,</text>
<text x="119.24" y="0" font-size="7.50" fill="#1c1a2c" fill-opacity="0.82" textLength="35.06" lengthAdjust="spacingAndGlyphs" stroke="#1c1a2c" stroke-opacity="0.35" stroke-width="0.15">raspberry</text>
<text x="159.86" y="0" font-size="7.50" fill="#1c1a2c" fill-opacity="0.82" textLength="11.54" lengthAdjust="spacingAndGlyphs" stroke="#1c1a2c" stroke-opacity="0.35" stroke-width="0.15">tea</text>
<text x="176.95" y="0" font-size="7.50" fill="#1c1a2c" fill-opacity="0.82" textLength="28.61" lengthAdjust="spacingAndGlyphs" stroke="#1c1a2c" stroke-opacity="0.35" stroke-width="0.15">infusion</text>
<text x="211.12" y="0" font-size="7.50" fill="#1c1a2c" fill-opacity="0.82" textLength="27.68" lengthAdjust="spacingAndGlyphs" stroke="#1c1a2c" stroke-opacity="0.35" stroke-width="0.15">(filtered</text>
</g>
<g transform="translate(564.30,289.80) rotate(-90)">
<text x="0.00" y="0" font-size="7.50" fill="#1c1a2c" fill-opacity="0.82" textLength="22.14" lengthAdjust="spacingAndGlyphs" stroke="#1c1a2c" stroke-opacity="0.35" stroke-width="0.15">water,</text>
<text x="29.57" y="0" font-size="7.50" fill="#1c1a2c" fill-opacity="0.82" textLength="32.29" lengthAdjust="spacingAndGlyphs" stroke="#1c1a2c" stroke-opacity="0.35" stroke-width="0.15">hibiscus,</text>
<text x="69.28" y="0" font-size="7.50" fill="#1c1a2c" fill-opacity="0.82" textLength="16.15" lengthAdjust="spacingAndGlyphs" stroke="#1c1a2c" stroke-opacity="0.35" stroke-width="0.15">rose</text>
<text x="92.85" y="0" font-size="7.50" fill="#1c1a2c" fill-opacity="0.82" textLength="13.38" lengthAdjust="spacingAndGlyphs" stroke="#1c1a2c" stroke-opacity="0.35" stroke-width="0.15">hip,</text>
<text x="113.65" y="0" font-size="7.50" fill="#1c1a2c" fill-opacity="0.82" textLength="22.61" lengthAdjust="spacingAndGlyphs" stroke="#1c1a2c" stroke-opacity="0.35" stroke-width="0.15">apple,</text>
<text x="143.69" y="0" font-size="7.50" fill="#1c1a2c" fill-opacity="0.82" textLength="46.59" lengthAdjust="spacingAndGlyphs" stroke="#1c1a2c" stroke-opacity="0.35" stroke-width="0.15">raspberries),</text>
<text x="197.70" y="0" font-size="7.50" fill="#1c1a2c" fill-opacity="0.82" textLength="16.61" lengthAdjust="spacingAndGlyphs" stroke="#1c1a2c" stroke-opacity="0.35" stroke-width="0.15">pear</text>
<text x="221.73" y="0" font-size="7.50" fill="#1c1a2c" fill-opacity="0.82" textLength="17.07" lengthAdjust="spacingAndGlyphs" stroke="#1c1a2c" stroke-opacity="0.35" stroke-width="0.15">juice</text>
</g>
<g transform="translate(572.60,289.80) rotate(-90)">
<text x="0.00" y="0" font-size="7.50" fill="#1c1a2c" fill-opacity="0.82" textLength="45.68" lengthAdjust="spacingAndGlyphs" stroke="#1c1a2c" stroke-opacity="0.35" stroke-width="0.15">concentrate,</text>
<text x="56.81" y="0" font-size="7.50" fill="#1c1a2c" fill-opacity="0.82" textLength="35.06" lengthAdjust="spacingAndGlyphs" stroke="#1c1a2c" stroke-opacity="0.35" stroke-width="0.15">raspberry</text>
<text x="102.99" y="0" font-size="7.50" fill="#1c1a2c" fill-opacity="0.82" textLength="17.07" lengthAdjust="spacingAndGlyphs" stroke="#1c1a2c" stroke-opacity="0.35" stroke-width="0.15">juice</text>
<text x="131.19" y="0" font-size="7.50" fill="#1c1a2c" fill-opacity="0.82" textLength="45.68" lengthAdjust="spacingAndGlyphs" stroke="#1c1a2c" stroke-opacity="0.35" stroke-width="0.15">concentrate,</text>
<text x="188.00" y="0" font-size="7.50" fill="#1c1a2c" fill-opacity="0.82" textLength="22.61" lengthAdjust="spacingAndGlyphs" stroke="#1c1a2c" stroke-opacity="0.35" stroke-width="0.15">lemon</text>
<text x="221.73" y="0" font-size="7.50" fill="#1c1a2c" fill-opacity="0.82" textLength="17.07" lengthAdjust="spacingAndGlyphs" stroke="#1c1a2c" stroke-opacity="0.35" stroke-width="0.15">juice</text>
</g>
<g transform="translate(580.90,289.80) rotate(-90)">
<text x="0.00" y="0" font-size="7.50" fill="#1c1a2c" fill-opacity="0.82" textLength="45.68" lengthAdjust="spacingAndGlyphs" stroke="#1c1a2c" stroke-opacity="0.35" stroke-width="0.15">concentrate,</text>
<text x="48.04" y="0" font-size="7.50" fill="#1c1a2c" fill-opacity="0.82" textLength="27.68" lengthAdjust="spacingAndGlyphs" stroke="#1c1a2c" stroke-opacity="0.35" stroke-width="0.15">Recess</text>
<text x="78.08" y="0" font-size="7.50" fill="#1c1a2c" fill-opacity="0.82" textLength="42.90" lengthAdjust="spacingAndGlyphs" stroke="#1c1a2c" stroke-opacity="0.35" stroke-width="0.15">magnesium</text>
<text x="123.34" y="0" font-size="7.50" fill="#1c1a2c" fill-opacity="0.82" textLength="20.31" lengthAdjust="spacingAndGlyphs" stroke="#1c1a2c" stroke-opacity="0.35" stroke-width="0.15">blend</text>
<text x="146.01" y="0" font-size="7.50" fill="#1c1a2c" fill-opacity="0.82" textLength="45.67" lengthAdjust="spacingAndGlyphs" stroke="#1c1a2c" stroke-opacity="0.35" stroke-width="0.15">(magnesium</text>
<text x="194.04" y="0" font-size="7.50" fill="#1c1a2c" fill-opacity="0.82" textLength="44.76" lengthAdjust="spacingAndGlyphs" stroke="#1c1a2c" stroke-opacity="0.35" stroke-width="0.15">L-threonate,</text>
</g>
<g transform="translate(589.20,289.80) rotate(-90)">
<text x="0.00" y="0" font-size="7.50" fill="#1c1a2c" fill-opacity="0.82" textLength="42.90" lengthAdjust="spacingAndGlyphs" stroke="#1c1a2c" stroke-opacity="0.35" stroke-width="0.15">magnesium</text>
<text x="47.23" y="0" font-size="7.50" fill="#1c1a2c" fill-opacity="0.82" textLength="38.76" lengthAdjust="spacingAndGlyphs" stroke="#1c1a2c" stroke-opacity="0.35" stroke-width="0.15">ascorbate,</text>
<text x="90.31" y="0" font-size="7.50" fill="#1c1a2c" fill-opacity="0.82" textLength="26.29" lengthAdjust="spacingAndGlyphs" stroke="#1c1a2c" stroke-opacity="0.35" stroke-width="0.15">vitamin</text>
<text x="120.92" y="0" font-size="7.50" fill="#1c1a2c" fill-opacity="0.82" textLength="10.15" lengthAdjust="spacingAndGlyphs" stroke="#1c1a2c" stroke-opacity="0.35" stroke-width="0.15">B6</text>
<text x="135.39" y="0" font-size="7.50" fill="#1c1a2c" fill-opacity="0.82" textLength="8.77" lengthAdjust="spacingAndGlyphs" stroke="#1c1a2c" stroke-opacity="0.35" stroke-width="0.15">as</text>
<text x="148.48" y="0" font-size="7.50" fill="#1c1a2c" fill-opacity="0.82" textLength="33.22" lengthAdjust="spacingAndGlyphs" stroke="#1c1a2c" stroke-opacity="0.35" stroke-width="0.15">pyridoxal</text>
<text x="186.02" y="0" font-size="7.50" fill="#1c1a2c" fill-opacity="0.82" textLength="4.62" lengthAdjust="spacingAndGlyphs" stroke="#1c1a2c" stroke-opacity="0.35" stroke-width="0.15">5</text>
<text x="194.96" y="0" font-size="7.50" fill="#1c1a2c" fill-opacity="0.82" textLength="43.84" lengthAdjust="spacingAndGlyphs" stroke="#1c1a2c" stroke-opacity="0.35" stroke-width="0.15">phosphate),</text>
</g>
<g transform="translate(597.50,289.80) rotate(-90)">
<text x="0.00" y="0" font-size="7.50" fill="#1c1a2c" fill-opacity="0.82" textLength="25.38" lengthAdjust="spacingAndGlyphs" stroke="#1c1a2c" stroke-opacity="0.35" stroke-width="0.15">natural</text>
<text x="27.69" y="0" font-size="7.50" fill="#1c1a2c" fill-opacity="0.82" textLength="26.75" lengthAdjust="spacingAndGlyphs" stroke="#1c1a2c" stroke-opacity="0.35" stroke-width="0.15">flavors,</text>
<text x="56.74" y="0" font-size="7.50" fill="#1c1a2c" fill-opacity="0.82" textLength="22.61" lengthAdjust="spacingAndGlyphs" stroke="#1c1a2c" stroke-opacity="0.35" stroke-width="0.15">lemon</text>
<text x="81.66" y="0" font-size="7.50" fill="#1c1a2c" fill-opacity="0.82" textLength="17.99" lengthAdjust="spacingAndGlyphs" stroke="#1c1a2c" stroke-opacity="0.35" stroke-width="0.15">balm</text>
<text x="101.95" y="0" font-size="7.50" fill="#1c1a2c" fill-opacity="0.82" textLength="29.07" lengthAdjust="spacingAndGlyphs" stroke="#1c1a2c" stroke-opacity="0.35" stroke-width="0.15">powder,</text>
<text x="133.33" y="0" font-size="7.50" fill="#1c1a2c" fill-opacity="0.82" textLength="39.23" lengthAdjust="spacingAndGlyphs" stroke="#1c1a2c" stroke-opacity="0.35" stroke-width="0.15">L-theanine</text>
<text x="174.86" y="0" font-size="7.50" fill="#1c1a2c" fill-opacity="0.82" textLength="27.22" lengthAdjust="spacingAndGlyphs" stroke="#1c1a2c" stroke-opacity="0.35" stroke-width="0.15">powder</text>
</g>
<defs><linearGradient id="g3" x1="0.000" y1="0.000" x2="0.000" y2="1.000"><stop offset="0.000" stop-color="#3fa928"/><stop offset="0.500" stop-color="#9cab58"/><stop offset="1.000" stop-color="#fac035"/></linearGradient></defs>
<rect x="59.70" y="350.20" width="251.50" height="282.20" rx="11.60" fill="#ffffff" fill-opacity="0.5"/>
<rect x="61.80" y="352.30" width="247.30" height="278.00" rx="9.50" fill="url(#g3)" stroke="#400020" stroke-opacity="0.18" stroke-width="1"/>
<rect x="81.20" y="370.30" width="155.10" height="240.50" fill="none" stroke="#251a30" stroke-opacity="0.7" stroke-width="0.9"/>
<text x="85.90" y="387.50" font-size="16.00" font-weight="bold" fill="#14284c" stroke="#14284c" stroke-width="0.30" textLength="145.70" lengthAdjust="spacingAndGlyphs" letter-spacing="1.05">Nutrition Facts</text>
<text x="86.30" y="402.50" font-size="9.80" font-weight="bold" fill="#14284c" fill-opacity="0.95" textLength="49.30" lengthAdjust="spacingAndGlyphs">Serv. size</text>
<text x="161.90" y="402.50" font-size="9.80" font-weight="bold" fill="#14284c" fill-opacity="0.95" textLength="69.70" lengthAdjust="spacingAndGlyphs">1 can (12 fl oz)</text>
<rect x="84.90" y="407.00" width="148.90" height="5.70" fill="#1b3464"/>
<text x="86.30" y="423.50" font-size="7.30" font-weight="bold" fill="#14284c" fill-opacity="0.90" textLength="78.90" lengthAdjust="spacingAndGlyphs">Amount Per Serving</text>
<text x="86.70" y="440.00" font-size="15.60" fill="#14284c" stroke="#14284c" stroke-width="0.55" textLength="69.90" lengthAdjust="spacingAndGlyphs">Calories</text>
<text x="203.70" y="440.10" font-size="20.20" font-weight="bold" fill="#14284c" textLength="27.50" lengthAdjust="spacingAndGlyphs">20</text>
<rect x="84.90" y="445.80" width="148.90" height="4.00" fill="#1b3464"/>
<text x="186.70" y="459.90" font-size="7.30" font-weight="bold" fill="#14284c" fill-opacity="0.90" textLength="45.80" lengthAdjust="spacingAndGlyphs">% Daily Value</text>
<rect x="84.90" y="463.70" width="148.90" height="1.00" fill="#2a1a30" fill-opacity="0.28"/>
<text x="85.00" y="473.50" font-size="8.30" font-weight="bold" fill="#1c1a2c" fill-opacity="0.95" textLength="34.50" lengthAdjust="spacingAndGlyphs">Total Fat</text>
<text x="122.50" y="473.50" font-size="8.30" fill="#1c1a2c" fill-opacity="0.90" textLength="9.40" lengthAdjust="spacingAndGlyphs">0g</text>
<text x="220.30" y="473.50" font-size="8.30" font-weight="bold" fill="#1c1a2c" fill-opacity="0.95" textLength="12.20" lengthAdjust="spacingAndGlyphs">0%</text>
<text x="85.00" y="486.00" font-size="8.30" font-weight="bold" fill="#1c1a2c" fill-opacity="0.95" textLength="29.00" lengthAdjust="spacingAndGlyphs">Sodium</text>
<text x="117.20" y="486.00" font-size="8.30" fill="#1c1a2c" fill-opacity="0.90" textLength="19.40" lengthAdjust="spacingAndGlyphs">11mg</text>
<text x="221.90" y="486.00" font-size="8.30" font-weight="bold" fill="#1c1a2c" fill-opacity="0.95" textLength="10.60" lengthAdjust="spacingAndGlyphs">1%</text>
<text x="85.00" y="498.50" font-size="8.30" font-weight="bold" fill="#1c1a2c" fill-opacity="0.95" textLength="76.60" lengthAdjust="spacingAndGlyphs">Total Carbohydrate</text>
<text x="164.30" y="498.50" font-size="8.30" fill="#1c1a2c" fill-opacity="0.90" textLength="9.20" lengthAdjust="spacingAndGlyphs">6g</text>
<text x="220.70" y="498.50" font-size="8.30" font-weight="bold" fill="#1c1a2c" fill-opacity="0.95" textLength="11.80" lengthAdjust="spacingAndGlyphs">2%</text>
<text x="99.50" y="511.10" font-size="8.30" fill="#1c1a2c" fill-opacity="0.90" textLength="58.10" lengthAdjust="spacingAndGlyphs">Total Sugars 4g</text>
<text x="115.20" y="523.20" font-size="8.30" fill="#1c1a2c" fill-opacity="0.90" textLength="99.40" lengthAdjust="spacingAndGlyphs">Includes 0g Added Sugars</text>
<text x="219.90" y="523.20" font-size="8.30" font-weight="bold" fill="#1c1a2c" fill-opacity="0.95" textLength="12.60" lengthAdjust="spacingAndGlyphs">0%</text>
<text x="85.00" y="535.80" font-size="8.30" font-weight="bold" fill="#1c1a2c" fill-opacity="0.95" textLength="28.00" lengthAdjust="spacingAndGlyphs">Protein</text>
<text x="116.00" y="535.80" font-size="8.30" fill="#1c1a2c" fill-opacity="0.90" textLength="9.40" lengthAdjust="spacingAndGlyphs">0g</text>
<rect x="84.90" y="476.50" width="148.90" height="1.00" fill="#2a1a30" fill-opacity="0.28"/>
<rect x="84.90" y="488.70" width="148.90" height="1.00" fill="#2a1a30" fill-opacity="0.28"/>
<rect x="84.90" y="501.30" width="148.90" height="1.00" fill="#2a1a30" fill-opacity="0.28"/>
<rect x="84.90" y="513.60" width="148.90" height="1.00" fill="#2a1a30" fill-opacity="0.28"/>
<rect x="84.90" y="526.00" width="148.90" height="1.00" fill="#2a1a30" fill-opacity="0.28"/>
<rect x="84.90" y="539.60" width="148.90" height="6.30" fill="#1b3464"/>
<text x="86.30" y="555.40" font-size="8.30" fill="#1c1a2c" fill-opacity="0.88" textLength="63.60" lengthAdjust="spacingAndGlyphs">Potassium 50mg</text>
<text x="221.70" y="555.40" font-size="8.30" fill="#1c1a2c" fill-opacity="0.88" textLength="10.80" lengthAdjust="spacingAndGlyphs">2%</text>
<text x="86.30" y="567.70" font-size="8.30" fill="#1c1a2c" fill-opacity="0.88" textLength="57.70" lengthAdjust="spacingAndGlyphs">Vitamin B6 1mg</text>
<text x="215.70" y="567.70" font-size="8.30" fill="#1c1a2c" fill-opacity="0.88" textLength="16.80" lengthAdjust="spacingAndGlyphs">60%</text>
<text x="86.30" y="580.30" font-size="8.30" fill="#1c1a2c" fill-opacity="0.88" textLength="66.30" lengthAdjust="spacingAndGlyphs">Magnesium 53mg</text>
<text x="217.70" y="580.30" font-size="8.30" fill="#1c1a2c" fill-opacity="0.88" textLength="14.80" lengthAdjust="spacingAndGlyphs">15%</text>
<rect x="84.90" y="558.60" width="148.90" height="1.00" fill="#2a1a30" fill-opacity="0.28"/>
<rect x="84.90" y="570.60" width="148.90" height="1.00" fill="#2a1a30" fill-opacity="0.28"/>
<rect x="84.90" y="584.30" width="148.90" height="4.40" fill="#1b3464"/>
<text x="86.00" y="598.00" font-size="6.70" fill="#1c1a2c" fill-opacity="0.90" textLength="135.60" lengthAdjust="spacingAndGlyphs">Not a significant source of saturated fat, trans fat,</text>
<text x="86.00" y="606.20" font-size="6.70" fill="#1c1a2c" fill-opacity="0.90" textLength="147.60" lengthAdjust="spacingAndGlyphs">cholesterol, dietary fiber, calcium, vitamin D, and iron.</text>
<g transform="translate(248.00,610.30) rotate(-90)">
<text x="0.00" y="0" font-size="7.50" font-weight="bold" fill="#1c1a2c" fill-opacity="1.00" textLength="56.50" lengthAdjust="spacingAndGlyphs">INGREDIENTS:</text>
<text x="61.27" y="0" font-size="7.50" fill="#1c1a2c" fill-opacity="0.82" textLength="24.61" lengthAdjust="spacingAndGlyphs" stroke="#1c1a2c" stroke-opacity="0.35" stroke-width="0.15">filtered</text>
<text x="90.65" y="0" font-size="7.50" fill="#1c1a2c" fill-opacity="0.82" textLength="21.88" lengthAdjust="spacingAndGlyphs" stroke="#1c1a2c" stroke-opacity="0.35" stroke-width="0.15">water,</text>
<text x="117.30" y="0" font-size="7.50" fill="#1c1a2c" fill-opacity="0.82" textLength="15.04" lengthAdjust="spacingAndGlyphs" stroke="#1c1a2c" stroke-opacity="0.35" stroke-width="0.15">lime</text>
<text x="137.11" y="0" font-size="7.50" fill="#1c1a2c" fill-opacity="0.82" textLength="11.40" lengthAdjust="spacingAndGlyphs" stroke="#1c1a2c" stroke-opacity="0.35" stroke-width="0.15">tea</text>
<text x="153.27" y="0" font-size="7.50" fill="#1c1a2c" fill-opacity="0.82" textLength="28.26" lengthAdjust="spacingAndGlyphs" stroke="#1c1a2c" stroke-opacity="0.35" stroke-width="0.15">infusion</text>
<text x="186.31" y="0" font-size="7.50" fill="#1c1a2c" fill-opacity="0.82" textLength="27.34" lengthAdjust="spacingAndGlyphs" stroke="#1c1a2c" stroke-opacity="0.35" stroke-width="0.15">(filtered</text>
<text x="218.42" y="0" font-size="7.50" fill="#1c1a2c" fill-opacity="0.82" textLength="21.88" lengthAdjust="spacingAndGlyphs" stroke="#1c1a2c" stroke-opacity="0.35" stroke-width="0.15">water,</text>
</g>
<g transform="translate(256.40,610.30) rotate(-90)">
<text x="0.00" y="0" font-size="7.50" fill="#1c1a2c" fill-opacity="0.82" textLength="15.04" lengthAdjust="spacingAndGlyphs" stroke="#1c1a2c" stroke-opacity="0.35" stroke-width="0.15">lime</text>
<text x="21.94" y="0" font-size="7.50" fill="#1c1a2c" fill-opacity="0.82" textLength="17.32" lengthAdjust="spacingAndGlyphs" stroke="#1c1a2c" stroke-opacity="0.35" stroke-width="0.15">zest,</text>
<text x="46.17" y="0" font-size="7.50" fill="#1c1a2c" fill-opacity="0.82" textLength="22.33" lengthAdjust="spacingAndGlyphs" stroke="#1c1a2c" stroke-opacity="0.35" stroke-width="0.15">lemon</text>
<text x="75.41" y="0" font-size="7.50" fill="#1c1a2c" fill-opacity="0.82" textLength="20.05" lengthAdjust="spacingAndGlyphs" stroke="#1c1a2c" stroke-opacity="0.35" stroke-width="0.15">zest),</text>
<text x="102.36" y="0" font-size="7.50" fill="#1c1a2c" fill-opacity="0.82" textLength="16.41" lengthAdjust="spacingAndGlyphs" stroke="#1c1a2c" stroke-opacity="0.35" stroke-width="0.15">pear</text>
<text x="125.68" y="0" font-size="7.50" fill="#1c1a2c" fill-opacity="0.82" textLength="16.87" lengthAdjust="spacingAndGlyphs" stroke="#1c1a2c" stroke-opacity="0.35" stroke-width="0.15">juice</text>
<text x="149.46" y="0" font-size="7.50" fill="#1c1a2c" fill-opacity="0.82" textLength="45.13" lengthAdjust="spacingAndGlyphs" stroke="#1c1a2c" stroke-opacity="0.35" stroke-width="0.15">concentrate,</text>
<text x="201.49" y="0" font-size="7.50" fill="#1c1a2c" fill-opacity="0.82" textLength="15.04" lengthAdjust="spacingAndGlyphs" stroke="#1c1a2c" stroke-opacity="0.35" stroke-width="0.15">lime</text>
<text x="223.43" y="0" font-size="7.50" fill="#1c1a2c" fill-opacity="0.82" textLength="16.87" lengthAdjust="spacingAndGlyphs" stroke="#1c1a2c" stroke-opacity="0.35" stroke-width="0.15">juice</text>
</g>
<g transform="translate(264.80,610.30) rotate(-90)">
<text x="0.00" y="0" font-size="7.50" fill="#1c1a2c" fill-opacity="0.82" textLength="45.13" lengthAdjust="spacingAndGlyphs" stroke="#1c1a2c" stroke-opacity="0.35" stroke-width="0.15">concentrate,</text>
<text x="48.34" y="0" font-size="7.50" fill="#1c1a2c" fill-opacity="0.82" textLength="27.34" lengthAdjust="spacingAndGlyphs" stroke="#1c1a2c" stroke-opacity="0.35" stroke-width="0.15">Recess</text>
<text x="78.89" y="0" font-size="7.50" fill="#1c1a2c" fill-opacity="0.82" textLength="42.39" lengthAdjust="spacingAndGlyphs" stroke="#1c1a2c" stroke-opacity="0.35" stroke-width="0.15">magnesium</text>
<text x="124.48" y="0" font-size="7.50" fill="#1c1a2c" fill-opacity="0.82" textLength="20.06" lengthAdjust="spacingAndGlyphs" stroke="#1c1a2c" stroke-opacity="0.35" stroke-width="0.15">blend</text>
<text x="147.75" y="0" font-size="7.50" fill="#1c1a2c" fill-opacity="0.82" textLength="45.12" lengthAdjust="spacingAndGlyphs" stroke="#1c1a2c" stroke-opacity="0.35" stroke-width="0.15">(magnesium</text>
<text x="196.08" y="0" font-size="7.50" fill="#1c1a2c" fill-opacity="0.82" textLength="44.22" lengthAdjust="spacingAndGlyphs" stroke="#1c1a2c" stroke-opacity="0.35" stroke-width="0.15">L-threonate,</text>
</g>
<g transform="translate(273.20,610.30) rotate(-90)">
<text x="0.00" y="0" font-size="7.50" fill="#1c1a2c" fill-opacity="0.82" textLength="42.39" lengthAdjust="spacingAndGlyphs" stroke="#1c1a2c" stroke-opacity="0.35" stroke-width="0.15">magnesium</text>
<text x="47.28" y="0" font-size="7.50" fill="#1c1a2c" fill-opacity="0.82" textLength="38.29" lengthAdjust="spacingAndGlyphs" stroke="#1c1a2c" stroke-opacity="0.35" stroke-width="0.15">ascorbate,</text>
<text x="90.47" y="0" font-size="7.50" fill="#1c1a2c" fill-opacity="0.82" textLength="25.97" lengthAdjust="spacingAndGlyphs" stroke="#1c1a2c" stroke-opacity="0.35" stroke-width="0.15">vitamin</text>
<text x="121.34" y="0" font-size="7.50" fill="#1c1a2c" fill-opacity="0.82" textLength="10.03" lengthAdjust="spacingAndGlyphs" stroke="#1c1a2c" stroke-opacity="0.35" stroke-width="0.15">B6</text>
<text x="136.26" y="0" font-size="7.50" fill="#1c1a2c" fill-opacity="0.82" textLength="8.66" lengthAdjust="spacingAndGlyphs" stroke="#1c1a2c" stroke-opacity="0.35" stroke-width="0.15">as</text>
<text x="149.82" y="0" font-size="7.50" fill="#1c1a2c" fill-opacity="0.82" textLength="32.82" lengthAdjust="spacingAndGlyphs" stroke="#1c1a2c" stroke-opacity="0.35" stroke-width="0.15">pyridoxal</text>
<text x="187.53" y="0" font-size="7.50" fill="#1c1a2c" fill-opacity="0.82" textLength="4.56" lengthAdjust="spacingAndGlyphs" stroke="#1c1a2c" stroke-opacity="0.35" stroke-width="0.15">5</text>
<text x="196.99" y="0" font-size="7.50" fill="#1c1a2c" fill-opacity="0.82" textLength="43.31" lengthAdjust="spacingAndGlyphs" stroke="#1c1a2c" stroke-opacity="0.35" stroke-width="0.15">phosphate),</text>
</g>
<g transform="translate(281.60,610.30) rotate(-90)">
<text x="0.00" y="0" font-size="7.50" fill="#1c1a2c" fill-opacity="0.82" textLength="25.07" lengthAdjust="spacingAndGlyphs" stroke="#1c1a2c" stroke-opacity="0.35" stroke-width="0.15">natural</text>
<text x="35.42" y="0" font-size="7.50" fill="#1c1a2c" fill-opacity="0.82" textLength="26.43" lengthAdjust="spacingAndGlyphs" stroke="#1c1a2c" stroke-opacity="0.35" stroke-width="0.15">flavors,</text>
<text x="72.19" y="0" font-size="7.50" fill="#1c1a2c" fill-opacity="0.82" textLength="22.33" lengthAdjust="spacingAndGlyphs" stroke="#1c1a2c" stroke-opacity="0.35" stroke-width="0.15">lemon</text>
<text x="104.87" y="0" font-size="7.50" fill="#1c1a2c" fill-opacity="0.82" textLength="16.87" lengthAdjust="spacingAndGlyphs" stroke="#1c1a2c" stroke-opacity="0.35" stroke-width="0.15">juice</text>
<text x="132.08" y="0" font-size="7.50" fill="#1c1a2c" fill-opacity="0.82" textLength="45.13" lengthAdjust="spacingAndGlyphs" stroke="#1c1a2c" stroke-opacity="0.35" stroke-width="0.15">concentrate,</text>
<text x="187.56" y="0" font-size="7.50" fill="#1c1a2c" fill-opacity="0.82" textLength="25.53" lengthAdjust="spacingAndGlyphs" stroke="#1c1a2c" stroke-opacity="0.35" stroke-width="0.15">orange</text>
<text x="223.43" y="0" font-size="7.50" fill="#1c1a2c" fill-opacity="0.82" textLength="16.87" lengthAdjust="spacingAndGlyphs" stroke="#1c1a2c" stroke-opacity="0.35" stroke-width="0.15">juice</text>
</g>
<g transform="translate(290.00,610.30) rotate(-90)">
<text x="0.00" y="0" font-size="7.50" fill="#1c1a2c" fill-opacity="0.82" textLength="45.13" lengthAdjust="spacingAndGlyphs" stroke="#1c1a2c" stroke-opacity="0.35" stroke-width="0.15">concentrate,</text>
<text x="47.41" y="0" font-size="7.50" fill="#1c1a2c" fill-opacity="0.82" textLength="16.85" lengthAdjust="spacingAndGlyphs" stroke="#1c1a2c" stroke-opacity="0.35" stroke-width="0.15">citric</text>
<text x="66.54" y="0" font-size="7.50" fill="#1c1a2c" fill-opacity="0.82" textLength="17.32" lengthAdjust="spacingAndGlyphs" stroke="#1c1a2c" stroke-opacity="0.35" stroke-width="0.15">acid,</text>
<text x="86.14" y="0" font-size="7.50" fill="#1c1a2c" fill-opacity="0.82" textLength="22.33" lengthAdjust="spacingAndGlyphs" stroke="#1c1a2c" stroke-opacity="0.35" stroke-width="0.15">lemon</text>
<text x="110.75" y="0" font-size="7.50" fill="#1c1a2c" fill-opacity="0.82" textLength="17.77" lengthAdjust="spacingAndGlyphs" stroke="#1c1a2c" stroke-opacity="0.35" stroke-width="0.15">balm</text>
<text x="130.80" y="0" font-size="7.50" fill="#1c1a2c" fill-opacity="0.82" textLength="28.72" lengthAdjust="spacingAndGlyphs" stroke="#1c1a2c" stroke-opacity="0.35" stroke-width="0.15">powder,</text>
<text x="161.80" y="0" font-size="7.50" fill="#1c1a2c" fill-opacity="0.82" textLength="38.76" lengthAdjust="spacingAndGlyphs" stroke="#1c1a2c" stroke-opacity="0.35" stroke-width="0.15">L-theanine</text>
<text x="202.83" y="0" font-size="7.50" fill="#1c1a2c" fill-opacity="0.82" textLength="26.90" lengthAdjust="spacingAndGlyphs" stroke="#1c1a2c" stroke-opacity="0.35" stroke-width="0.15">powder</text>
</g>
<defs><linearGradient id="g4" x1="0.000" y1="0.000" x2="0.000" y2="1.000"><stop offset="0.000" stop-color="#fa7a86"/><stop offset="0.500" stop-color="#fe8e5e"/><stop offset="1.000" stop-color="#ffa80f"/></linearGradient></defs>
<rect x="367.00" y="350.30" width="251.50" height="282.20" rx="11.60" fill="#ffffff" fill-opacity="0.5"/>
<rect x="369.10" y="352.40" width="247.30" height="278.00" rx="9.50" fill="url(#g4)" stroke="#400020" stroke-opacity="0.18" stroke-width="1"/>
<rect x="388.50" y="370.40" width="155.10" height="240.50" fill="none" stroke="#251a30" stroke-opacity="0.7" stroke-width="0.9"/>
<text x="393.20" y="387.60" font-size="16.00" font-weight="bold" fill="#14284c" stroke="#14284c" stroke-width="0.30" textLength="145.70" lengthAdjust="spacingAndGlyphs" letter-spacing="1.05">Nutrition Facts</text>
<text x="393.60" y="402.60" font-size="9.80" font-weight="bold" fill="#14284c" fill-opacity="0.95" textLength="49.30" lengthAdjust="spacingAndGlyphs">Serv. size</text>
<text x="469.20" y="402.60" font-size="9.80" font-weight="bold" fill="#14284c" fill-opacity="0.95" textLength="69.70" lengthAdjust="spacingAndGlyphs">1 can (12 fl oz)</text>
<rect x="392.20" y="407.10" width="148.90" height="5.70" fill="#1b3464"/>
<text x="393.60" y="423.60" font-size="7.30" font-weight="bold" fill="#14284c" fill-opacity="0.90" textLength="78.90" lengthAdjust="spacingAndGlyphs">Amount Per Serving</text>
<text x="394.00" y="440.10" font-size="15.60" fill="#14284c" stroke="#14284c" stroke-width="0.55" textLength="69.90" lengthAdjust="spacingAndGlyphs">Calories</text>
<text x="511.00" y="440.20" font-size="20.20" font-weight="bold" fill="#14284c" textLength="27.50" lengthAdjust="spacingAndGlyphs">20</text>
<rect x="392.20" y="445.90" width="148.90" height="4.00" fill="#1b3464"/>
<text x="494.00" y="460.00" font-size="7.30" font-weight="bold" fill="#14284c" fill-opacity="0.90" textLength="45.80" lengthAdjust="spacingAndGlyphs">% Daily Value</text>
<rect x="392.20" y="463.80" width="148.90" height="1.00" fill="#2a1a30" fill-opacity="0.28"/>
<text x="392.30" y="473.60" font-size="8.30" font-weight="bold" fill="#1c1a2c" fill-opacity="0.95" textLength="34.50" lengthAdjust="spacingAndGlyphs">Total Fat</text>
<text x="429.80" y="473.60" font-size="8.30" fill="#1c1a2c" fill-opacity="0.90" textLength="9.40" lengthAdjust="spacingAndGlyphs">0g</text>
<text x="527.60" y="473.60" font-size="8.30" font-weight="bold" fill="#1c1a2c" fill-opacity="0.95" textLength="12.20" lengthAdjust="spacingAndGlyphs">0%</text>
<text x="392.30" y="486.10" font-size="8.30" font-weight="bold" fill="#1c1a2c" fill-opacity="0.95" textLength="29.00" lengthAdjust="spacingAndGlyphs">Sodium</text>
<text x="424.50" y="486.10" font-size="8.30" fill="#1c1a2c" fill-opacity="0.90" textLength="19.40" lengthAdjust="spacingAndGlyphs">31mg</text>
<text x="529.20" y="486.10" font-size="8.30" font-weight="bold" fill="#1c1a2c" fill-opacity="0.95" textLength="10.60" lengthAdjust="spacingAndGlyphs">1%</text>
<text x="392.30" y="498.60" font-size="8.30" font-weight="bold" fill="#1c1a2c" fill-opacity="0.95" textLength="76.60" lengthAdjust="spacingAndGlyphs">Total Carbohydrate</text>
<text x="471.60" y="498.60" font-size="8.30" fill="#1c1a2c" fill-opacity="0.90" textLength="9.20" lengthAdjust="spacingAndGlyphs">5g</text>
<text x="528.00" y="498.60" font-size="8.30" font-weight="bold" fill="#1c1a2c" fill-opacity="0.95" textLength="11.80" lengthAdjust="spacingAndGlyphs">2%</text>
<text x="406.80" y="511.20" font-size="8.30" fill="#1c1a2c" fill-opacity="0.90" textLength="58.10" lengthAdjust="spacingAndGlyphs">Total Sugars 3g</text>
<text x="422.50" y="523.30" font-size="8.30" fill="#1c1a2c" fill-opacity="0.90" textLength="99.40" lengthAdjust="spacingAndGlyphs">Includes 0g Added Sugars</text>
<text x="527.20" y="523.30" font-size="8.30" font-weight="bold" fill="#1c1a2c" fill-opacity="0.95" textLength="12.60" lengthAdjust="spacingAndGlyphs">0%</text>
<text x="392.30" y="535.90" font-size="8.30" font-weight="bold" fill="#1c1a2c" fill-opacity="0.95" textLength="28.00" lengthAdjust="spacingAndGlyphs">Protein</text>
<text x="423.30" y="535.90" font-size="8.30" fill="#1c1a2c" fill-opacity="0.90" textLength="9.40" lengthAdjust="spacingAndGlyphs">0g</text>
<rect x="392.20" y="476.60" width="148.90" height="1.00" fill="#2a1a30" fill-opacity="0.28"/>
<rect x="392.20" y="488.80" width="148.90" height="1.00" fill="#2a1a30" fill-opacity="0.28"/>
<rect x="392.20" y="501.40" width="148.90" height="1.00" fill="#2a1a30" fill-opacity="0.28"/>
<rect x="392.20" y="513.70" width="148.90" height="1.00" fill="#2a1a30" fill-opacity="0.28"/>
<rect x="392.20" y="526.10" width="148.90" height="1.00" fill="#2a1a30" fill-opacity="0.28"/>
<rect x="392.20" y="539.70" width="148.90" height="6.30" fill="#1b3464"/>
<text x="393.60" y="555.50" font-size="8.30" fill="#1c1a2c" fill-opacity="0.88" textLength="63.60" lengthAdjust="spacingAndGlyphs">Potassium 55mg</text>
<text x="529.00" y="555.50" font-size="8.30" fill="#1c1a2c" fill-opacity="0.88" textLength="10.80" lengthAdjust="spacingAndGlyphs">2%</text>
<text x="393.60" y="567.80" font-size="8.30" fill="#1c1a2c" fill-opacity="0.88" textLength="57.70" lengthAdjust="spacingAndGlyphs">Vitamin B6 1mg</text>
<text x="523.00" y="567.80" font-size="8.30" fill="#1c1a2c" fill-opacity="0.88" textLength="16.80" lengthAdjust="spacingAndGlyphs">60%</text>
<text x="393.60" y="580.40" font-size="8.30" fill="#1c1a2c" fill-opacity="0.88" textLength="66.30" lengthAdjust="spacingAndGlyphs">Magnesium 53mg</text>
<text x="525.00" y="580.40" font-size="8.30" fill="#1c1a2c" fill-opacity="0.88" textLength="14.80" lengthAdjust="spacingAndGlyphs">15%</text>
<rect x="392.20" y="558.70" width="148.90" height="1.00" fill="#2a1a30" fill-opacity="0.28"/>
<rect x="392.20" y="570.70" width="148.90" height="1.00" fill="#2a1a30" fill-opacity="0.28"/>
<rect x="392.20" y="584.40" width="148.90" height="4.40" fill="#1b3464"/>
<text x="393.30" y="598.10" font-size="6.70" fill="#1c1a2c" fill-opacity="0.90" textLength="135.60" lengthAdjust="spacingAndGlyphs">Not a significant source of saturated fat, trans fat,</text>
<text x="393.30" y="606.30" font-size="6.70" fill="#1c1a2c" fill-opacity="0.90" textLength="147.60" lengthAdjust="spacingAndGlyphs">cholesterol, dietary fiber, calcium, vitamin D, and iron.</text>
<g transform="translate(555.00,609.80) rotate(-90)">
<text x="0.00" y="0" font-size="7.00" font-weight="bold" fill="#1c1a2c" fill-opacity="1.00" textLength="48.80" lengthAdjust="spacingAndGlyphs">INGREDIENTS:</text>
<text x="52.35" y="0" font-size="7.00" fill="#1c1a2c" fill-opacity="0.82" textLength="22.66" lengthAdjust="spacingAndGlyphs" stroke="#1c1a2c" stroke-opacity="0.35" stroke-width="0.15">filtered</text>
<text x="78.57" y="0" font-size="7.00" fill="#1c1a2c" fill-opacity="0.82" textLength="20.14" lengthAdjust="spacingAndGlyphs" stroke="#1c1a2c" stroke-opacity="0.35" stroke-width="0.15">water,</text>
<text x="102.27" y="0" font-size="7.00" fill="#1c1a2c" fill-opacity="0.82" textLength="12.59" lengthAdjust="spacingAndGlyphs" stroke="#1c1a2c" stroke-opacity="0.35" stroke-width="0.15">fruit</text>
<text x="118.41" y="0" font-size="7.00" fill="#1c1a2c" fill-opacity="0.82" textLength="24.34" lengthAdjust="spacingAndGlyphs" stroke="#1c1a2c" stroke-opacity="0.35" stroke-width="0.15">medley</text>
<text x="146.30" y="0" font-size="7.00" fill="#1c1a2c" fill-opacity="0.82" textLength="10.50" lengthAdjust="spacingAndGlyphs" stroke="#1c1a2c" stroke-opacity="0.35" stroke-width="0.15">tea</text>
<text x="160.35" y="0" font-size="7.00" fill="#1c1a2c" fill-opacity="0.82" textLength="26.02" lengthAdjust="spacingAndGlyphs" stroke="#1c1a2c" stroke-opacity="0.35" stroke-width="0.15">infusion</text>
<text x="189.93" y="0" font-size="7.00" fill="#1c1a2c" fill-opacity="0.82" textLength="25.18" lengthAdjust="spacingAndGlyphs" stroke="#1c1a2c" stroke-opacity="0.35" stroke-width="0.15">(filtered</text>
<text x="218.66" y="0" font-size="7.00" fill="#1c1a2c" fill-opacity="0.82" textLength="20.14" lengthAdjust="spacingAndGlyphs" stroke="#1c1a2c" stroke-opacity="0.35" stroke-width="0.15">water,</text>
</g>
<g transform="translate(563.15,609.80) rotate(-90)">
<text x="0.00" y="0" font-size="7.00" fill="#1c1a2c" fill-opacity="0.82" textLength="20.57" lengthAdjust="spacingAndGlyphs" stroke="#1c1a2c" stroke-opacity="0.35" stroke-width="0.15">apple,</text>
<text x="22.67" y="0" font-size="7.00" fill="#1c1a2c" fill-opacity="0.82" textLength="24.76" lengthAdjust="spacingAndGlyphs" stroke="#1c1a2c" stroke-opacity="0.35" stroke-width="0.15">apricot,</text>
<text x="49.52" y="0" font-size="7.00" fill="#1c1a2c" fill-opacity="0.82" textLength="14.69" lengthAdjust="spacingAndGlyphs" stroke="#1c1a2c" stroke-opacity="0.35" stroke-width="0.15">rose</text>
<text x="66.31" y="0" font-size="7.00" fill="#1c1a2c" fill-opacity="0.82" textLength="15.95" lengthAdjust="spacingAndGlyphs" stroke="#1c1a2c" stroke-opacity="0.35" stroke-width="0.15">hips,</text>
<text x="84.35" y="0" font-size="7.00" fill="#1c1a2c" fill-opacity="0.82" textLength="23.51" lengthAdjust="spacingAndGlyphs" stroke="#1c1a2c" stroke-opacity="0.35" stroke-width="0.15">orange</text>
<text x="109.96" y="0" font-size="7.00" fill="#1c1a2c" fill-opacity="0.82" textLength="16.37" lengthAdjust="spacingAndGlyphs" stroke="#1c1a2c" stroke-opacity="0.35" stroke-width="0.15">peel,</text>
<text x="128.43" y="0" font-size="7.00" fill="#1c1a2c" fill-opacity="0.82" textLength="31.89" lengthAdjust="spacingAndGlyphs" stroke="#1c1a2c" stroke-opacity="0.35" stroke-width="0.15">hibiscus),</text>
<text x="162.42" y="0" font-size="7.00" fill="#1c1a2c" fill-opacity="0.82" textLength="15.11" lengthAdjust="spacingAndGlyphs" stroke="#1c1a2c" stroke-opacity="0.35" stroke-width="0.15">pear</text>
<text x="179.62" y="0" font-size="7.00" fill="#1c1a2c" fill-opacity="0.82" textLength="15.53" lengthAdjust="spacingAndGlyphs" stroke="#1c1a2c" stroke-opacity="0.35" stroke-width="0.15">juice</text>
<text x="197.25" y="0" font-size="7.00" fill="#1c1a2c" fill-opacity="0.82" textLength="41.55" lengthAdjust="spacingAndGlyphs" stroke="#1c1a2c" stroke-opacity="0.35" stroke-width="0.15">concentrate,</text>
</g>
<g transform="translate(571.30,609.80) rotate(-90)">
<text x="0.00" y="0" font-size="7.00" fill="#1c1a2c" fill-opacity="0.82" textLength="31.90" lengthAdjust="spacingAndGlyphs" stroke="#1c1a2c" stroke-opacity="0.35" stroke-width="0.15">grapefruit</text>
<text x="36.16" y="0" font-size="7.00" fill="#1c1a2c" fill-opacity="0.82" textLength="15.53" lengthAdjust="spacingAndGlyphs" stroke="#1c1a2c" stroke-opacity="0.35" stroke-width="0.15">juice</text>
<text x="55.96" y="0" font-size="7.00" fill="#1c1a2c" fill-opacity="0.82" textLength="41.55" lengthAdjust="spacingAndGlyphs" stroke="#1c1a2c" stroke-opacity="0.35" stroke-width="0.15">concentrate,</text>
<text x="101.78" y="0" font-size="7.00" fill="#1c1a2c" fill-opacity="0.82" textLength="25.18" lengthAdjust="spacingAndGlyphs" stroke="#1c1a2c" stroke-opacity="0.35" stroke-width="0.15">Recess</text>
<text x="131.22" y="0" font-size="7.00" fill="#1c1a2c" fill-opacity="0.82" textLength="39.03" lengthAdjust="spacingAndGlyphs" stroke="#1c1a2c" stroke-opacity="0.35" stroke-width="0.15">magnesium</text>
<text x="174.52" y="0" font-size="7.00" fill="#1c1a2c" fill-opacity="0.82" textLength="18.47" lengthAdjust="spacingAndGlyphs" stroke="#1c1a2c" stroke-opacity="0.35" stroke-width="0.15">blend</text>
<text x="197.26" y="0" font-size="7.00" fill="#1c1a2c" fill-opacity="0.82" textLength="41.54" lengthAdjust="spacingAndGlyphs" stroke="#1c1a2c" stroke-opacity="0.35" stroke-width="0.15">(magnesium</text>
</g>
<g transform="translate(579.45,609.80) rotate(-90)">
<text x="0.00" y="0" font-size="7.00" fill="#1c1a2c" fill-opacity="0.82" textLength="40.72" lengthAdjust="spacingAndGlyphs" stroke="#1c1a2c" stroke-opacity="0.35" stroke-width="0.15">L-threonate,</text>
<text x="47.61" y="0" font-size="7.00" fill="#1c1a2c" fill-opacity="0.82" textLength="39.03" lengthAdjust="spacingAndGlyphs" stroke="#1c1a2c" stroke-opacity="0.35" stroke-width="0.15">magnesium</text>
<text x="93.53" y="0" font-size="7.00" fill="#1c1a2c" fill-opacity="0.82" textLength="35.25" lengthAdjust="spacingAndGlyphs" stroke="#1c1a2c" stroke-opacity="0.35" stroke-width="0.15">ascorbate,</text>
<text x="135.68" y="0" font-size="7.00" fill="#1c1a2c" fill-opacity="0.82" textLength="23.92" lengthAdjust="spacingAndGlyphs" stroke="#1c1a2c" stroke-opacity="0.35" stroke-width="0.15">vitamin</text>
<text x="166.49" y="0" font-size="7.00" fill="#1c1a2c" fill-opacity="0.82" textLength="9.24" lengthAdjust="spacingAndGlyphs" stroke="#1c1a2c" stroke-opacity="0.35" stroke-width="0.15">B6</text>
<text x="182.62" y="0" font-size="7.00" fill="#1c1a2c" fill-opacity="0.82" textLength="7.97" lengthAdjust="spacingAndGlyphs" stroke="#1c1a2c" stroke-opacity="0.35" stroke-width="0.15">as</text>
<text x="197.49" y="0" font-size="7.00" fill="#1c1a2c" fill-opacity="0.82" textLength="30.22" lengthAdjust="spacingAndGlyphs" stroke="#1c1a2c" stroke-opacity="0.35" stroke-width="0.15">pyridoxal</text>
<text x="234.60" y="0" font-size="7.00" fill="#1c1a2c" fill-opacity="0.82" textLength="4.20" lengthAdjust="spacingAndGlyphs" stroke="#1c1a2c" stroke-opacity="0.35" stroke-width="0.15">5</text>
</g>
<g transform="translate(587.60,609.80) rotate(-90)">
<text x="0.00" y="0" font-size="7.00" fill="#1c1a2c" fill-opacity="0.82" textLength="39.88" lengthAdjust="spacingAndGlyphs" stroke="#1c1a2c" stroke-opacity="0.35" stroke-width="0.15">phosphate),</text>
<text x="45.33" y="0" font-size="7.00" fill="#1c1a2c" fill-opacity="0.82" textLength="31.48" lengthAdjust="spacingAndGlyphs" stroke="#1c1a2c" stroke-opacity="0.35" stroke-width="0.15">tangerine</text>
<text x="82.27" y="0" font-size="7.00" fill="#1c1a2c" fill-opacity="0.82" textLength="15.53" lengthAdjust="spacingAndGlyphs" stroke="#1c1a2c" stroke-opacity="0.35" stroke-width="0.15">juice</text>
<text x="103.25" y="0" font-size="7.00" fill="#1c1a2c" fill-opacity="0.82" textLength="41.55" lengthAdjust="spacingAndGlyphs" stroke="#1c1a2c" stroke-opacity="0.35" stroke-width="0.15">concentrate,</text>
<text x="150.25" y="0" font-size="7.00" fill="#1c1a2c" fill-opacity="0.82" textLength="20.56" lengthAdjust="spacingAndGlyphs" stroke="#1c1a2c" stroke-opacity="0.35" stroke-width="0.15">lemon</text>
<text x="176.27" y="0" font-size="7.00" fill="#1c1a2c" fill-opacity="0.82" textLength="15.53" lengthAdjust="spacingAndGlyphs" stroke="#1c1a2c" stroke-opacity="0.35" stroke-width="0.15">juice</text>
<text x="197.25" y="0" font-size="7.00" fill="#1c1a2c" fill-opacity="0.82" textLength="41.55" lengthAdjust="spacingAndGlyphs" stroke="#1c1a2c" stroke-opacity="0.35" stroke-width="0.15">concentrate,</text>
</g>
<g transform="translate(595.75,609.80) rotate(-90)">
<text x="0.00" y="0" font-size="7.00" fill="#1c1a2c" fill-opacity="0.82" textLength="23.09" lengthAdjust="spacingAndGlyphs" stroke="#1c1a2c" stroke-opacity="0.35" stroke-width="0.15">natural</text>
<text x="25.18" y="0" font-size="7.00" fill="#1c1a2c" fill-opacity="0.82" textLength="24.34" lengthAdjust="spacingAndGlyphs" stroke="#1c1a2c" stroke-opacity="0.35" stroke-width="0.15">flavors,</text>
<text x="51.62" y="0" font-size="7.00" fill="#1c1a2c" fill-opacity="0.82" textLength="15.52" lengthAdjust="spacingAndGlyphs" stroke="#1c1a2c" stroke-opacity="0.35" stroke-width="0.15">citric</text>
<text x="69.23" y="0" font-size="7.00" fill="#1c1a2c" fill-opacity="0.82" textLength="15.95" lengthAdjust="spacingAndGlyphs" stroke="#1c1a2c" stroke-opacity="0.35" stroke-width="0.15">acid,</text>
<text x="87.28" y="0" font-size="7.00" fill="#1c1a2c" fill-opacity="0.82" textLength="20.56" lengthAdjust="spacingAndGlyphs" stroke="#1c1a2c" stroke-opacity="0.35" stroke-width="0.15">lemon</text>
<text x="109.94" y="0" font-size="7.00" fill="#1c1a2c" fill-opacity="0.82" textLength="16.37" lengthAdjust="spacingAndGlyphs" stroke="#1c1a2c" stroke-opacity="0.35" stroke-width="0.15">balm</text>
<text x="128.40" y="0" font-size="7.00" fill="#1c1a2c" fill-opacity="0.82" textLength="26.44" lengthAdjust="spacingAndGlyphs" stroke="#1c1a2c" stroke-opacity="0.35" stroke-width="0.15">powder,</text>
<text x="156.94" y="0" font-size="7.00" fill="#1c1a2c" fill-opacity="0.82" textLength="35.68" lengthAdjust="spacingAndGlyphs" stroke="#1c1a2c" stroke-opacity="0.35" stroke-width="0.15">L-theanine</text>
<text x="194.72" y="0" font-size="7.00" fill="#1c1a2c" fill-opacity="0.82" textLength="24.76" lengthAdjust="spacingAndGlyphs" stroke="#1c1a2c" stroke-opacity="0.35" stroke-width="0.15">powder</text>
</g>
<text x="111.90" y="333.90" font-size="17.00" fill="#1c1f3e" stroke="#1c1f3e" stroke-width="0.10" textLength="147.20" lengthAdjust="spacingAndGlyphs">strawberry rose</text>
<text x="417.20" y="333.90" font-size="17.00" fill="#1c1f3e" stroke="#1c1f3e" stroke-width="0.10" textLength="151.10" lengthAdjust="spacingAndGlyphs">raspberry lemon</text>
<text x="134.40" y="654.30" font-size="17.00" fill="#1c1f3e" stroke="#1c1f3e" stroke-width="0.10" textLength="94.50" lengthAdjust="spacingAndGlyphs">lime citrus</text>
<text x="400.80" y="654.50" font-size="17.00" fill="#1c1f3e" stroke="#1c1f3e" stroke-width="0.10" textLength="184.10" lengthAdjust="spacingAndGlyphs">grapefruit tangerine</text>
</svg></body></html>
